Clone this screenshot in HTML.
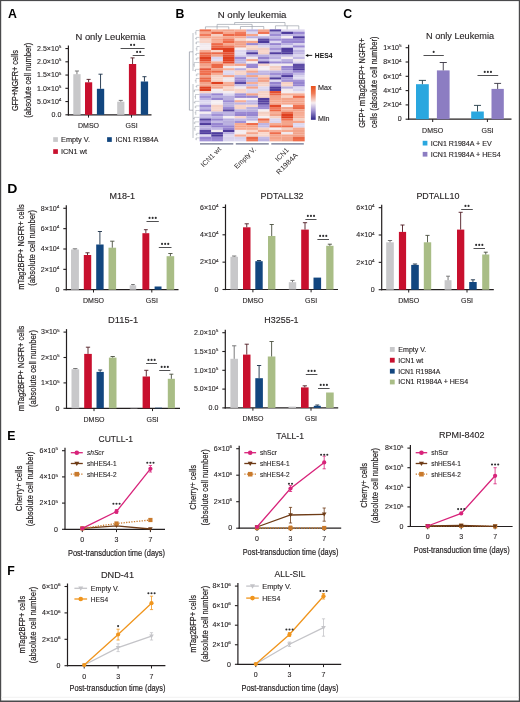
<!DOCTYPE html>
<html><head><meta charset="utf-8"><style>
html,body{margin:0;padding:0;background:#fff;}
svg{display:block;will-change:transform;}
text{font-family:"Liberation Sans", sans-serif;}
</style></head><body>
<svg width="520" height="702" viewBox="0 0 520 702">
<rect width="520" height="702" fill="#fff"/>
<rect x="0" y="0" width="520" height="1.1" fill="#4a4a4c"/>
<rect x="0" y="0" width="1.2" height="702" fill="#4a4a4c"/>
<rect x="518.8" y="0" width="1.2" height="702" fill="#4a4a4c"/>
<rect x="0" y="700.5" width="520" height="1.5" fill="#4a4a4c"/>
<rect x="1" y="696.8" width="518" height="0.8" fill="#ededed"/>
<text x="8" y="18" font-size="12.3" text-anchor="start" fill="#000" font-weight="bold">A</text>
<text x="175.5" y="18.3" font-size="12.3" text-anchor="start" fill="#000" font-weight="bold">B</text>
<text x="343.2" y="18" font-size="12.3" text-anchor="start" fill="#000" font-weight="bold">C</text>
<text x="7.3" y="440.3" font-size="12.3" text-anchor="start" fill="#000" font-weight="bold">E</text>
<text x="7.3" y="574.5" font-size="12.3" text-anchor="start" fill="#000" font-weight="bold">F</text>
<text transform="translate(7.2,193.4) scale(1.14,1)" x="0" y="0" font-size="12.3" font-weight="bold" fill="#000">D</text>
<line x1="68.4" y1="45.55" x2="68.4" y2="115.4" stroke="#231f20" stroke-width="1.2"/>
<line x1="65.4" y1="114.8" x2="68.4" y2="114.8" stroke="#231f20" stroke-width="1.1"/>
<text transform="translate(61.4,117.07) scale(1.12,1)" x="0" y="0" font-size="6.3" text-anchor="end" fill="#231f20" stroke="#231f20" stroke-width="0.1">0.0</text>
<line x1="65.4" y1="101.55" x2="68.4" y2="101.55" stroke="#231f20" stroke-width="1.1"/>
<text transform="translate(61.4,103.82) scale(1.12,1)" x="0" y="0" font-size="6.3" text-anchor="end" fill="#231f20" stroke="#231f20" stroke-width="0.1">5.0×10<tspan font-size="4.16" dy="-2.65">4</tspan></text>
<line x1="65.4" y1="88.3" x2="68.4" y2="88.3" stroke="#231f20" stroke-width="1.1"/>
<text transform="translate(61.4,90.57) scale(1.12,1)" x="0" y="0" font-size="6.3" text-anchor="end" fill="#231f20" stroke="#231f20" stroke-width="0.1">1.0×10<tspan font-size="4.16" dy="-2.65">5</tspan></text>
<line x1="65.4" y1="75.05" x2="68.4" y2="75.05" stroke="#231f20" stroke-width="1.1"/>
<text transform="translate(61.4,77.32) scale(1.12,1)" x="0" y="0" font-size="6.3" text-anchor="end" fill="#231f20" stroke="#231f20" stroke-width="0.1">1.5×10<tspan font-size="4.16" dy="-2.65">5</tspan></text>
<line x1="65.4" y1="61.8" x2="68.4" y2="61.8" stroke="#231f20" stroke-width="1.1"/>
<text transform="translate(61.4,64.07) scale(1.12,1)" x="0" y="0" font-size="6.3" text-anchor="end" fill="#231f20" stroke="#231f20" stroke-width="0.1">2.0×10<tspan font-size="4.16" dy="-2.65">5</tspan></text>
<line x1="65.4" y1="48.55" x2="68.4" y2="48.55" stroke="#231f20" stroke-width="1.1"/>
<text transform="translate(61.4,50.82) scale(1.12,1)" x="0" y="0" font-size="6.3" text-anchor="end" fill="#231f20" stroke="#231f20" stroke-width="0.1">2.5×10<tspan font-size="4.16" dy="-2.65">5</tspan></text>
<line x1="67.8" y1="114.8" x2="151.5" y2="114.8" stroke="#231f20" stroke-width="1.2"/>
<line x1="88.5" y1="114.8" x2="88.5" y2="117.6" stroke="#231f20" stroke-width="1"/>
<line x1="131.5" y1="114.8" x2="131.5" y2="117.6" stroke="#231f20" stroke-width="1"/>
<rect x="73.3" y="74.2" width="7.3" height="40.6" fill="#c8c8ca"/>
<line x1="76.95" y1="71" x2="76.95" y2="74.2" stroke="#6b6b6c" stroke-width="0.9"/>
<line x1="74.91" y1="71" x2="78.99" y2="71" stroke="#6b6b6c" stroke-width="0.9"/>
<rect x="85" y="82.3" width="7.2" height="32.5" fill="#c8102e"/>
<line x1="88.6" y1="79.4" x2="88.6" y2="82.3" stroke="#4f1b23" stroke-width="0.9"/>
<line x1="86.58" y1="79.4" x2="90.62" y2="79.4" stroke="#4f1b23" stroke-width="0.9"/>
<rect x="96.9" y="88.8" width="7.3" height="26" fill="#12467f"/>
<line x1="100.55" y1="74.2" x2="100.55" y2="88.8" stroke="#1a2f46" stroke-width="0.9"/>
<line x1="98.51" y1="74.2" x2="102.59" y2="74.2" stroke="#1a2f46" stroke-width="0.9"/>
<rect x="117.2" y="101.7" width="7.2" height="13.1" fill="#c8c8ca"/>
<line x1="120.8" y1="100.4" x2="120.8" y2="101.7" stroke="#6b6b6c" stroke-width="0.9"/>
<line x1="118.78" y1="100.4" x2="122.82" y2="100.4" stroke="#6b6b6c" stroke-width="0.9"/>
<rect x="128.9" y="64" width="7.3" height="50.8" fill="#c8102e"/>
<line x1="132.55" y1="57.9" x2="132.55" y2="64" stroke="#4f1b23" stroke-width="0.9"/>
<line x1="130.51" y1="57.9" x2="134.59" y2="57.9" stroke="#4f1b23" stroke-width="0.9"/>
<rect x="140.8" y="81.5" width="7.3" height="33.3" fill="#12467f"/>
<line x1="144.45" y1="76.7" x2="144.45" y2="81.5" stroke="#1a2f46" stroke-width="0.9"/>
<line x1="142.41" y1="76.7" x2="146.49" y2="76.7" stroke="#1a2f46" stroke-width="0.9"/>
<line x1="120.6" y1="48.5" x2="144.6" y2="48.5" stroke="#3c3c3e" stroke-width="0.9"/>
<circle cx="131.05" cy="44.9" r="1.05" fill="#2f2f31"/>
<circle cx="134.15" cy="44.9" r="1.05" fill="#2f2f31"/>
<line x1="132.7" y1="55.5" x2="144.6" y2="55.5" stroke="#3c3c3e" stroke-width="0.9"/>
<circle cx="137.1" cy="51.9" r="1.05" fill="#2f2f31"/>
<circle cx="140.2" cy="51.9" r="1.05" fill="#2f2f31"/>
<text x="88.5" y="128.2" font-size="7" text-anchor="middle" fill="#231f20" stroke="#231f20" stroke-width="0.12">DMSO</text>
<text x="131.6" y="128.2" font-size="7" text-anchor="middle" fill="#231f20" stroke="#231f20" stroke-width="0.12">GSI</text>
<text x="110.5" y="40" font-size="9" text-anchor="middle" fill="#231f20" textLength="70" lengthAdjust="spacingAndGlyphs" stroke="#231f20" stroke-width="0.12">N only Leukemia</text>
<text transform="translate(18.25,80.6) rotate(-90)" x="0" y="0" font-size="9.5" text-anchor="middle" fill="#231f20" stroke="#231f20" stroke-width="0.2" textLength="61" lengthAdjust="spacingAndGlyphs">GFP+NGFR+ cells</text>
<text transform="translate(30.65,80.3) rotate(-90)" x="0" y="0" font-size="9.5" text-anchor="middle" fill="#231f20" stroke="#231f20" stroke-width="0.2" textLength="75" lengthAdjust="spacingAndGlyphs">(absolute cell number)</text>
<rect x="53.2" y="137.2" width="4.7" height="4.7" fill="#c8c8ca"/>
<text x="61" y="141.8" font-size="6.8" text-anchor="start" fill="#231f20" textLength="29" lengthAdjust="spacingAndGlyphs" stroke="#231f20" stroke-width="0.12">Empty V.</text>
<rect x="107.1" y="137.2" width="4.7" height="4.7" fill="#12467f"/>
<text x="115.5" y="141.8" font-size="6.8" text-anchor="start" fill="#231f20" textLength="43" lengthAdjust="spacingAndGlyphs" stroke="#231f20" stroke-width="0.12">ICN1 R1984A</text>
<rect x="53.2" y="149.2" width="4.7" height="4.7" fill="#c8102e"/>
<text x="61" y="153.8" font-size="6.8" text-anchor="start" fill="#231f20" textLength="26" lengthAdjust="spacingAndGlyphs" stroke="#231f20" stroke-width="0.12">ICN1 wt</text>
<line x1="408.6" y1="44.7" x2="408.6" y2="119.8" stroke="#231f20" stroke-width="1.2"/>
<line x1="405.6" y1="119.2" x2="408.6" y2="119.2" stroke="#231f20" stroke-width="1.1"/>
<text transform="translate(401.6,121.47) scale(1.12,1)" x="0" y="0" font-size="6.3" text-anchor="end" fill="#231f20" stroke="#231f20" stroke-width="0.1">0</text>
<line x1="405.6" y1="104.9" x2="408.6" y2="104.9" stroke="#231f20" stroke-width="1.1"/>
<text transform="translate(401.6,107.17) scale(1.12,1)" x="0" y="0" font-size="6.3" text-anchor="end" fill="#231f20" stroke="#231f20" stroke-width="0.1">2×10<tspan font-size="4.16" dy="-2.65">4</tspan></text>
<line x1="405.6" y1="90.6" x2="408.6" y2="90.6" stroke="#231f20" stroke-width="1.1"/>
<text transform="translate(401.6,92.87) scale(1.12,1)" x="0" y="0" font-size="6.3" text-anchor="end" fill="#231f20" stroke="#231f20" stroke-width="0.1">4×10<tspan font-size="4.16" dy="-2.65">4</tspan></text>
<line x1="405.6" y1="76.3" x2="408.6" y2="76.3" stroke="#231f20" stroke-width="1.1"/>
<text transform="translate(401.6,78.57) scale(1.12,1)" x="0" y="0" font-size="6.3" text-anchor="end" fill="#231f20" stroke="#231f20" stroke-width="0.1">6×10<tspan font-size="4.16" dy="-2.65">4</tspan></text>
<line x1="405.6" y1="62" x2="408.6" y2="62" stroke="#231f20" stroke-width="1.1"/>
<text transform="translate(401.6,64.27) scale(1.12,1)" x="0" y="0" font-size="6.3" text-anchor="end" fill="#231f20" stroke="#231f20" stroke-width="0.1">8×10<tspan font-size="4.16" dy="-2.65">4</tspan></text>
<line x1="405.6" y1="47.7" x2="408.6" y2="47.7" stroke="#231f20" stroke-width="1.1"/>
<text transform="translate(401.6,49.97) scale(1.12,1)" x="0" y="0" font-size="6.3" text-anchor="end" fill="#231f20" stroke="#231f20" stroke-width="0.1">1×10<tspan font-size="4.16" dy="-2.65">5</tspan></text>
<line x1="408" y1="119.2" x2="511.5" y2="119.2" stroke="#231f20" stroke-width="1.2"/>
<line x1="432.7" y1="119.2" x2="432.7" y2="122" stroke="#231f20" stroke-width="1"/>
<line x1="487.4" y1="119.2" x2="487.4" y2="122" stroke="#231f20" stroke-width="1"/>
<rect x="416" y="84.2" width="12.8" height="35" fill="#2aa7df"/>
<line x1="422.4" y1="80.4" x2="422.4" y2="84.2" stroke="#223b46" stroke-width="0.9"/>
<line x1="418.82" y1="80.4" x2="425.98" y2="80.4" stroke="#223b46" stroke-width="0.9"/>
<rect x="436.9" y="70.4" width="12.7" height="48.8" fill="#8c7dc2"/>
<line x1="443.25" y1="62.5" x2="443.25" y2="70.4" stroke="#353240" stroke-width="0.9"/>
<line x1="439.69" y1="62.5" x2="446.81" y2="62.5" stroke="#353240" stroke-width="0.9"/>
<rect x="471.2" y="111.5" width="12.6" height="7.7" fill="#2aa7df"/>
<line x1="477.5" y1="105.4" x2="477.5" y2="111.5" stroke="#223b46" stroke-width="0.9"/>
<line x1="473.97" y1="105.4" x2="481.03" y2="105.4" stroke="#223b46" stroke-width="0.9"/>
<rect x="491.5" y="88.9" width="12.3" height="30.3" fill="#8c7dc2"/>
<line x1="497.65" y1="83.4" x2="497.65" y2="88.9" stroke="#353240" stroke-width="0.9"/>
<line x1="494.21" y1="83.4" x2="501.09" y2="83.4" stroke="#353240" stroke-width="0.9"/>
<line x1="423.5" y1="55.5" x2="443.8" y2="55.5" stroke="#3c3c3e" stroke-width="0.9"/>
<circle cx="433.65" cy="51.9" r="1.05" fill="#2f2f31"/>
<line x1="477.5" y1="75.5" x2="498.2" y2="75.5" stroke="#3c3c3e" stroke-width="0.9"/>
<circle cx="484.75" cy="71.9" r="1.05" fill="#2f2f31"/>
<circle cx="487.85" cy="71.9" r="1.05" fill="#2f2f31"/>
<circle cx="490.95" cy="71.9" r="1.05" fill="#2f2f31"/>
<text x="432.6" y="132.6" font-size="7" text-anchor="middle" fill="#231f20" stroke="#231f20" stroke-width="0.12">DMSO</text>
<text x="487.5" y="132.6" font-size="7" text-anchor="middle" fill="#231f20" stroke="#231f20" stroke-width="0.12">GSI</text>
<text x="460" y="38.8" font-size="9" text-anchor="middle" fill="#231f20" textLength="68" lengthAdjust="spacingAndGlyphs" stroke="#231f20" stroke-width="0.12">N only Leukemia</text>
<text transform="translate(364.65,83) rotate(-90)" x="0" y="0" font-size="9.5" text-anchor="middle" fill="#231f20" stroke="#231f20" stroke-width="0.2" textLength="89.5" lengthAdjust="spacingAndGlyphs">GFP+ mTag2BFP+ NGFR+</text>
<text transform="translate(376.86,82.2) rotate(-90)" x="0" y="0" font-size="9.5" text-anchor="middle" fill="#231f20" stroke="#231f20" stroke-width="0.2" textLength="91.5" lengthAdjust="spacingAndGlyphs">cells (absolute cell number)</text>
<rect x="422.7" y="140.8" width="4.7" height="4.7" fill="#2aa7df"/>
<text x="430.7" y="145.5" font-size="6.8" text-anchor="start" fill="#231f20" textLength="61" lengthAdjust="spacingAndGlyphs" stroke="#231f20" stroke-width="0.12">ICN1 R1984A + EV</text>
<rect x="422.7" y="151.9" width="4.7" height="4.7" fill="#8c7dc2"/>
<text x="430.7" y="156.6" font-size="6.8" text-anchor="start" fill="#231f20" textLength="70" lengthAdjust="spacingAndGlyphs" stroke="#231f20" stroke-width="0.12">ICN1 R1984A + HES4</text>
<line x1="66.3" y1="205.3" x2="66.3" y2="290.3" stroke="#231f20" stroke-width="1.2"/>
<line x1="63.3" y1="289.7" x2="66.3" y2="289.7" stroke="#231f20" stroke-width="1.1"/>
<text transform="translate(59.3,291.97) scale(1.12,1)" x="0" y="0" font-size="6.3" text-anchor="end" fill="#231f20" stroke="#231f20" stroke-width="0.1">0</text>
<line x1="63.3" y1="269.35" x2="66.3" y2="269.35" stroke="#231f20" stroke-width="1.1"/>
<text transform="translate(59.3,271.62) scale(1.12,1)" x="0" y="0" font-size="6.3" text-anchor="end" fill="#231f20" stroke="#231f20" stroke-width="0.1">2×10<tspan font-size="4.16" dy="-2.65">4</tspan></text>
<line x1="63.3" y1="249" x2="66.3" y2="249" stroke="#231f20" stroke-width="1.1"/>
<text transform="translate(59.3,251.27) scale(1.12,1)" x="0" y="0" font-size="6.3" text-anchor="end" fill="#231f20" stroke="#231f20" stroke-width="0.1">4×10<tspan font-size="4.16" dy="-2.65">4</tspan></text>
<line x1="63.3" y1="228.65" x2="66.3" y2="228.65" stroke="#231f20" stroke-width="1.1"/>
<text transform="translate(59.3,230.92) scale(1.12,1)" x="0" y="0" font-size="6.3" text-anchor="end" fill="#231f20" stroke="#231f20" stroke-width="0.1">6×10<tspan font-size="4.16" dy="-2.65">4</tspan></text>
<line x1="63.3" y1="208.3" x2="66.3" y2="208.3" stroke="#231f20" stroke-width="1.1"/>
<text transform="translate(59.3,210.57) scale(1.12,1)" x="0" y="0" font-size="6.3" text-anchor="end" fill="#231f20" stroke="#231f20" stroke-width="0.1">8×10<tspan font-size="4.16" dy="-2.65">4</tspan></text>
<line x1="65.7" y1="289.7" x2="178.5" y2="289.7" stroke="#231f20" stroke-width="1.2"/>
<line x1="93.5" y1="289.7" x2="93.5" y2="292.5" stroke="#231f20" stroke-width="1"/>
<line x1="151.8" y1="289.7" x2="151.8" y2="292.5" stroke="#231f20" stroke-width="1"/>
<rect x="71" y="249.5" width="7.9" height="40.2" fill="#c8c8ca"/>
<line x1="74.95" y1="248.8" x2="74.95" y2="249.5" stroke="#6b6b6c" stroke-width="0.9"/>
<line x1="72.74" y1="248.8" x2="77.16" y2="248.8" stroke="#6b6b6c" stroke-width="0.9"/>
<rect x="83.8" y="255" width="7.4" height="34.7" fill="#c8102e"/>
<line x1="87.5" y1="252.8" x2="87.5" y2="255" stroke="#4f1b23" stroke-width="0.9"/>
<line x1="85.43" y1="252.8" x2="89.57" y2="252.8" stroke="#4f1b23" stroke-width="0.9"/>
<rect x="96.2" y="244.5" width="7.4" height="45.2" fill="#12467f"/>
<line x1="99.9" y1="231.5" x2="99.9" y2="244.5" stroke="#1a2f46" stroke-width="0.9"/>
<line x1="97.83" y1="231.5" x2="101.97" y2="231.5" stroke="#1a2f46" stroke-width="0.9"/>
<rect x="108.5" y="247.7" width="7.6" height="42" fill="#a9bd86"/>
<line x1="112.3" y1="241.2" x2="112.3" y2="247.7" stroke="#494f3e" stroke-width="0.9"/>
<line x1="110.17" y1="241.2" x2="114.43" y2="241.2" stroke="#494f3e" stroke-width="0.9"/>
<rect x="129.7" y="285.3" width="6.5" height="4.4" fill="#c8c8ca"/>
<line x1="132.95" y1="284.5" x2="132.95" y2="285.3" stroke="#6b6b6c" stroke-width="0.9"/>
<line x1="131.13" y1="284.5" x2="134.77" y2="284.5" stroke="#6b6b6c" stroke-width="0.9"/>
<rect x="142.4" y="233.2" width="6.9" height="56.5" fill="#c8102e"/>
<line x1="145.85" y1="229.7" x2="145.85" y2="233.2" stroke="#4f1b23" stroke-width="0.9"/>
<line x1="143.92" y1="229.7" x2="147.78" y2="229.7" stroke="#4f1b23" stroke-width="0.9"/>
<rect x="154.6" y="286.5" width="6.9" height="3.2" fill="#12467f"/>
<rect x="166.6" y="256.2" width="7.6" height="33.5" fill="#a9bd86"/>
<line x1="170.4" y1="253.5" x2="170.4" y2="256.2" stroke="#494f3e" stroke-width="0.9"/>
<line x1="168.27" y1="253.5" x2="172.53" y2="253.5" stroke="#494f3e" stroke-width="0.9"/>
<line x1="146.5" y1="221.5" x2="158.8" y2="221.5" stroke="#3c3c3e" stroke-width="0.9"/>
<circle cx="149.55" cy="217.9" r="1.05" fill="#2f2f31"/>
<circle cx="152.65" cy="217.9" r="1.05" fill="#2f2f31"/>
<circle cx="155.75" cy="217.9" r="1.05" fill="#2f2f31"/>
<line x1="158.8" y1="247.5" x2="171.5" y2="247.5" stroke="#3c3c3e" stroke-width="0.9"/>
<circle cx="162.05" cy="243.9" r="1.05" fill="#2f2f31"/>
<circle cx="165.15" cy="243.9" r="1.05" fill="#2f2f31"/>
<circle cx="168.25" cy="243.9" r="1.05" fill="#2f2f31"/>
<text x="93.5" y="302.9" font-size="7" text-anchor="middle" fill="#231f20" stroke="#231f20" stroke-width="0.12">DMSO</text>
<text x="151.8" y="302.9" font-size="7" text-anchor="middle" fill="#231f20" stroke="#231f20" stroke-width="0.12">GSI</text>
<text x="122.35" y="198.9" font-size="9.2" text-anchor="middle" fill="#231f20" textLength="25.6" lengthAdjust="spacingAndGlyphs" stroke="#231f20" stroke-width="0.12">M18-1</text>
<line x1="225.5" y1="204.45" x2="225.5" y2="290.1" stroke="#231f20" stroke-width="1.2"/>
<line x1="222.5" y1="289.5" x2="225.5" y2="289.5" stroke="#231f20" stroke-width="1.1"/>
<text transform="translate(218.5,291.77) scale(1.12,1)" x="0" y="0" font-size="6.3" text-anchor="end" fill="#231f20" stroke="#231f20" stroke-width="0.1">0</text>
<line x1="222.5" y1="262.15" x2="225.5" y2="262.15" stroke="#231f20" stroke-width="1.1"/>
<text transform="translate(218.5,264.42) scale(1.12,1)" x="0" y="0" font-size="6.3" text-anchor="end" fill="#231f20" stroke="#231f20" stroke-width="0.1">2×10<tspan font-size="4.16" dy="-2.65">4</tspan></text>
<line x1="222.5" y1="234.8" x2="225.5" y2="234.8" stroke="#231f20" stroke-width="1.1"/>
<text transform="translate(218.5,237.07) scale(1.12,1)" x="0" y="0" font-size="6.3" text-anchor="end" fill="#231f20" stroke="#231f20" stroke-width="0.1">4×10<tspan font-size="4.16" dy="-2.65">4</tspan></text>
<line x1="222.5" y1="207.45" x2="225.5" y2="207.45" stroke="#231f20" stroke-width="1.1"/>
<text transform="translate(218.5,209.72) scale(1.12,1)" x="0" y="0" font-size="6.3" text-anchor="end" fill="#231f20" stroke="#231f20" stroke-width="0.1">6×10<tspan font-size="4.16" dy="-2.65">4</tspan></text>
<line x1="224.9" y1="289.5" x2="338" y2="289.5" stroke="#231f20" stroke-width="1.2"/>
<line x1="252.9" y1="289.5" x2="252.9" y2="292.3" stroke="#231f20" stroke-width="1"/>
<line x1="311.1" y1="289.5" x2="311.1" y2="292.3" stroke="#231f20" stroke-width="1"/>
<rect x="230.4" y="256.8" width="7.6" height="32.7" fill="#c8c8ca"/>
<line x1="234.2" y1="256" x2="234.2" y2="256.8" stroke="#6b6b6c" stroke-width="0.9"/>
<line x1="232.07" y1="256" x2="236.33" y2="256" stroke="#6b6b6c" stroke-width="0.9"/>
<rect x="243" y="227.3" width="7.5" height="62.2" fill="#c8102e"/>
<line x1="246.75" y1="223.8" x2="246.75" y2="227.3" stroke="#4f1b23" stroke-width="0.9"/>
<line x1="244.65" y1="223.8" x2="248.85" y2="223.8" stroke="#4f1b23" stroke-width="0.9"/>
<rect x="255.3" y="261.2" width="7.4" height="28.3" fill="#12467f"/>
<line x1="259" y1="260.5" x2="259" y2="261.2" stroke="#1a2f46" stroke-width="0.9"/>
<line x1="256.93" y1="260.5" x2="261.07" y2="260.5" stroke="#1a2f46" stroke-width="0.9"/>
<rect x="268" y="236" width="7.4" height="53.5" fill="#a9bd86"/>
<line x1="271.7" y1="224.5" x2="271.7" y2="236" stroke="#494f3e" stroke-width="0.9"/>
<line x1="269.63" y1="224.5" x2="273.77" y2="224.5" stroke="#494f3e" stroke-width="0.9"/>
<rect x="288.8" y="282.2" width="7.4" height="7.3" fill="#c8c8ca"/>
<line x1="292.5" y1="280.4" x2="292.5" y2="282.2" stroke="#6b6b6c" stroke-width="0.9"/>
<line x1="290.43" y1="280.4" x2="294.57" y2="280.4" stroke="#6b6b6c" stroke-width="0.9"/>
<rect x="301.2" y="229.6" width="7.6" height="59.9" fill="#c8102e"/>
<line x1="305" y1="222.7" x2="305" y2="229.6" stroke="#4f1b23" stroke-width="0.9"/>
<line x1="302.87" y1="222.7" x2="307.13" y2="222.7" stroke="#4f1b23" stroke-width="0.9"/>
<rect x="313.5" y="277.6" width="7.6" height="11.9" fill="#12467f"/>
<rect x="326.2" y="245.8" width="7.3" height="43.7" fill="#a9bd86"/>
<line x1="329.85" y1="244.2" x2="329.85" y2="245.8" stroke="#494f3e" stroke-width="0.9"/>
<line x1="327.81" y1="244.2" x2="331.89" y2="244.2" stroke="#494f3e" stroke-width="0.9"/>
<line x1="305.4" y1="219.5" x2="316.5" y2="219.5" stroke="#3c3c3e" stroke-width="0.9"/>
<circle cx="307.85" cy="215.9" r="1.05" fill="#2f2f31"/>
<circle cx="310.95" cy="215.9" r="1.05" fill="#2f2f31"/>
<circle cx="314.05" cy="215.9" r="1.05" fill="#2f2f31"/>
<line x1="317.4" y1="239.5" x2="329" y2="239.5" stroke="#3c3c3e" stroke-width="0.9"/>
<circle cx="320.1" cy="235.9" r="1.05" fill="#2f2f31"/>
<circle cx="323.2" cy="235.9" r="1.05" fill="#2f2f31"/>
<circle cx="326.3" cy="235.9" r="1.05" fill="#2f2f31"/>
<text x="252.9" y="302.7" font-size="7" text-anchor="middle" fill="#231f20" stroke="#231f20" stroke-width="0.12">DMSO</text>
<text x="311.1" y="302.7" font-size="7" text-anchor="middle" fill="#231f20" stroke="#231f20" stroke-width="0.12">GSI</text>
<text x="282.1" y="198.7" font-size="9.2" text-anchor="middle" fill="#231f20" textLength="43" lengthAdjust="spacingAndGlyphs" stroke="#231f20" stroke-width="0.12">PDTALL32</text>
<line x1="381.7" y1="204.65" x2="381.7" y2="290.3" stroke="#231f20" stroke-width="1.2"/>
<line x1="378.7" y1="289.7" x2="381.7" y2="289.7" stroke="#231f20" stroke-width="1.1"/>
<text transform="translate(374.7,291.97) scale(1.12,1)" x="0" y="0" font-size="6.3" text-anchor="end" fill="#231f20" stroke="#231f20" stroke-width="0.1">0</text>
<line x1="378.7" y1="262.35" x2="381.7" y2="262.35" stroke="#231f20" stroke-width="1.1"/>
<text transform="translate(374.7,264.62) scale(1.12,1)" x="0" y="0" font-size="6.3" text-anchor="end" fill="#231f20" stroke="#231f20" stroke-width="0.1">2×10<tspan font-size="4.16" dy="-2.65">4</tspan></text>
<line x1="378.7" y1="235" x2="381.7" y2="235" stroke="#231f20" stroke-width="1.1"/>
<text transform="translate(374.7,237.27) scale(1.12,1)" x="0" y="0" font-size="6.3" text-anchor="end" fill="#231f20" stroke="#231f20" stroke-width="0.1">4×10<tspan font-size="4.16" dy="-2.65">4</tspan></text>
<line x1="378.7" y1="207.65" x2="381.7" y2="207.65" stroke="#231f20" stroke-width="1.1"/>
<text transform="translate(374.7,209.92) scale(1.12,1)" x="0" y="0" font-size="6.3" text-anchor="end" fill="#231f20" stroke="#231f20" stroke-width="0.1">6×10<tspan font-size="4.16" dy="-2.65">4</tspan></text>
<line x1="381.1" y1="289.7" x2="493.8" y2="289.7" stroke="#231f20" stroke-width="1.2"/>
<line x1="408.7" y1="289.7" x2="408.7" y2="292.5" stroke="#231f20" stroke-width="1"/>
<line x1="467" y1="289.7" x2="467" y2="292.5" stroke="#231f20" stroke-width="1"/>
<rect x="386.2" y="242.3" width="7.6" height="47.4" fill="#c8c8ca"/>
<line x1="390" y1="240.5" x2="390" y2="242.3" stroke="#6b6b6c" stroke-width="0.9"/>
<line x1="387.87" y1="240.5" x2="392.13" y2="240.5" stroke="#6b6b6c" stroke-width="0.9"/>
<rect x="398.9" y="231.9" width="7.2" height="57.8" fill="#c8102e"/>
<line x1="402.5" y1="225" x2="402.5" y2="231.9" stroke="#4f1b23" stroke-width="0.9"/>
<line x1="400.48" y1="225" x2="404.52" y2="225" stroke="#4f1b23" stroke-width="0.9"/>
<rect x="411.2" y="264.9" width="7.6" height="24.8" fill="#12467f"/>
<line x1="415" y1="264" x2="415" y2="264.9" stroke="#1a2f46" stroke-width="0.9"/>
<line x1="412.87" y1="264" x2="417.13" y2="264" stroke="#1a2f46" stroke-width="0.9"/>
<rect x="423.8" y="242.3" width="7.4" height="47.4" fill="#a9bd86"/>
<line x1="427.5" y1="235.4" x2="427.5" y2="242.3" stroke="#494f3e" stroke-width="0.9"/>
<line x1="425.43" y1="235.4" x2="429.57" y2="235.4" stroke="#494f3e" stroke-width="0.9"/>
<rect x="444.6" y="280.2" width="6.9" height="9.5" fill="#c8c8ca"/>
<line x1="448.05" y1="276.2" x2="448.05" y2="280.2" stroke="#6b6b6c" stroke-width="0.9"/>
<line x1="446.12" y1="276.2" x2="449.98" y2="276.2" stroke="#6b6b6c" stroke-width="0.9"/>
<rect x="457" y="229.6" width="7.3" height="60.1" fill="#c8102e"/>
<line x1="460.65" y1="212.3" x2="460.65" y2="229.6" stroke="#4f1b23" stroke-width="0.9"/>
<line x1="458.61" y1="212.3" x2="462.69" y2="212.3" stroke="#4f1b23" stroke-width="0.9"/>
<rect x="469.2" y="282" width="7.5" height="7.7" fill="#12467f"/>
<line x1="472.95" y1="279.8" x2="472.95" y2="282" stroke="#1a2f46" stroke-width="0.9"/>
<line x1="470.85" y1="279.8" x2="475.05" y2="279.8" stroke="#1a2f46" stroke-width="0.9"/>
<rect x="482.2" y="254.5" width="7.1" height="35.2" fill="#a9bd86"/>
<line x1="485.75" y1="252.2" x2="485.75" y2="254.5" stroke="#494f3e" stroke-width="0.9"/>
<line x1="483.76" y1="252.2" x2="487.74" y2="252.2" stroke="#494f3e" stroke-width="0.9"/>
<line x1="461.2" y1="209.5" x2="472.8" y2="209.5" stroke="#3c3c3e" stroke-width="0.9"/>
<circle cx="465.45" cy="205.9" r="1.05" fill="#2f2f31"/>
<circle cx="468.55" cy="205.9" r="1.05" fill="#2f2f31"/>
<line x1="473.5" y1="248.5" x2="485" y2="248.5" stroke="#3c3c3e" stroke-width="0.9"/>
<circle cx="476.15" cy="244.9" r="1.05" fill="#2f2f31"/>
<circle cx="479.25" cy="244.9" r="1.05" fill="#2f2f31"/>
<circle cx="482.35" cy="244.9" r="1.05" fill="#2f2f31"/>
<text x="408.7" y="302.9" font-size="7" text-anchor="middle" fill="#231f20" stroke="#231f20" stroke-width="0.12">DMSO</text>
<text x="467" y="302.9" font-size="7" text-anchor="middle" fill="#231f20" stroke="#231f20" stroke-width="0.12">GSI</text>
<text x="437.9" y="198.5" font-size="9.2" text-anchor="middle" fill="#231f20" textLength="43" lengthAdjust="spacingAndGlyphs" stroke="#231f20" stroke-width="0.12">PDTALL10</text>
<line x1="66.5" y1="329.1" x2="66.5" y2="408.9" stroke="#231f20" stroke-width="1.2"/>
<line x1="63.5" y1="408.3" x2="66.5" y2="408.3" stroke="#231f20" stroke-width="1.1"/>
<text transform="translate(59.5,410.57) scale(1.12,1)" x="0" y="0" font-size="6.3" text-anchor="end" fill="#231f20" stroke="#231f20" stroke-width="0.1">0</text>
<line x1="63.5" y1="382.9" x2="66.5" y2="382.9" stroke="#231f20" stroke-width="1.1"/>
<text transform="translate(59.5,385.17) scale(1.12,1)" x="0" y="0" font-size="6.3" text-anchor="end" fill="#231f20" stroke="#231f20" stroke-width="0.1">1×10<tspan font-size="4.16" dy="-2.65">5</tspan></text>
<line x1="63.5" y1="357.5" x2="66.5" y2="357.5" stroke="#231f20" stroke-width="1.1"/>
<text transform="translate(59.5,359.77) scale(1.12,1)" x="0" y="0" font-size="6.3" text-anchor="end" fill="#231f20" stroke="#231f20" stroke-width="0.1">2×10<tspan font-size="4.16" dy="-2.65">5</tspan></text>
<line x1="63.5" y1="332.1" x2="66.5" y2="332.1" stroke="#231f20" stroke-width="1.1"/>
<text transform="translate(59.5,334.37) scale(1.12,1)" x="0" y="0" font-size="6.3" text-anchor="end" fill="#231f20" stroke="#231f20" stroke-width="0.1">3×10<tspan font-size="4.16" dy="-2.65">5</tspan></text>
<line x1="65.9" y1="408.3" x2="180" y2="408.3" stroke="#231f20" stroke-width="1.2"/>
<line x1="94" y1="408.3" x2="94" y2="411.1" stroke="#231f20" stroke-width="1"/>
<line x1="152.5" y1="408.3" x2="152.5" y2="411.1" stroke="#231f20" stroke-width="1"/>
<rect x="71.5" y="369.2" width="7.7" height="39.1" fill="#c8c8ca"/>
<line x1="75.35" y1="368.5" x2="75.35" y2="369.2" stroke="#6b6b6c" stroke-width="0.9"/>
<line x1="73.19" y1="368.5" x2="77.51" y2="368.5" stroke="#6b6b6c" stroke-width="0.9"/>
<rect x="84.2" y="353.9" width="7.6" height="54.4" fill="#c8102e"/>
<line x1="88" y1="347.2" x2="88" y2="353.9" stroke="#4f1b23" stroke-width="0.9"/>
<line x1="85.87" y1="347.2" x2="90.13" y2="347.2" stroke="#4f1b23" stroke-width="0.9"/>
<rect x="96.5" y="371.9" width="7.3" height="36.4" fill="#12467f"/>
<line x1="100.15" y1="370" x2="100.15" y2="371.9" stroke="#1a2f46" stroke-width="0.9"/>
<line x1="98.11" y1="370" x2="102.19" y2="370" stroke="#1a2f46" stroke-width="0.9"/>
<rect x="108.9" y="357.6" width="7.6" height="50.7" fill="#a9bd86"/>
<line x1="112.7" y1="356.5" x2="112.7" y2="357.6" stroke="#494f3e" stroke-width="0.9"/>
<line x1="110.57" y1="356.5" x2="114.83" y2="356.5" stroke="#494f3e" stroke-width="0.9"/>
<rect x="130.4" y="407.7" width="7.1" height="0.6" fill="#c8c8ca"/>
<rect x="142.6" y="376.5" width="7.4" height="31.8" fill="#c8102e"/>
<line x1="146.3" y1="370.3" x2="146.3" y2="376.5" stroke="#4f1b23" stroke-width="0.9"/>
<line x1="144.23" y1="370.3" x2="148.37" y2="370.3" stroke="#4f1b23" stroke-width="0.9"/>
<rect x="155" y="407.7" width="7" height="0.6" fill="#12467f"/>
<rect x="167.8" y="378.8" width="7.1" height="29.5" fill="#a9bd86"/>
<line x1="171.35" y1="374.2" x2="171.35" y2="378.8" stroke="#494f3e" stroke-width="0.9"/>
<line x1="169.36" y1="374.2" x2="173.34" y2="374.2" stroke="#494f3e" stroke-width="0.9"/>
<line x1="146.1" y1="363.5" x2="157" y2="363.5" stroke="#3c3c3e" stroke-width="0.9"/>
<circle cx="148.45" cy="359.9" r="1.05" fill="#2f2f31"/>
<circle cx="151.55" cy="359.9" r="1.05" fill="#2f2f31"/>
<circle cx="154.65" cy="359.9" r="1.05" fill="#2f2f31"/>
<line x1="159.2" y1="370.5" x2="170.3" y2="370.5" stroke="#3c3c3e" stroke-width="0.9"/>
<circle cx="161.65" cy="366.9" r="1.05" fill="#2f2f31"/>
<circle cx="164.75" cy="366.9" r="1.05" fill="#2f2f31"/>
<circle cx="167.85" cy="366.9" r="1.05" fill="#2f2f31"/>
<text x="94" y="421.5" font-size="7" text-anchor="middle" fill="#231f20" stroke="#231f20" stroke-width="0.12">DMSO</text>
<text x="152.5" y="421.5" font-size="7" text-anchor="middle" fill="#231f20" stroke="#231f20" stroke-width="0.12">GSI</text>
<text x="123.05" y="323.2" font-size="9.2" text-anchor="middle" fill="#231f20" textLength="30.1" lengthAdjust="spacingAndGlyphs" stroke="#231f20" stroke-width="0.12">D115-1</text>
<line x1="225.3" y1="329.7" x2="225.3" y2="408.5" stroke="#231f20" stroke-width="1.2"/>
<line x1="222.3" y1="407.9" x2="225.3" y2="407.9" stroke="#231f20" stroke-width="1.1"/>
<text transform="translate(218.3,410.17) scale(1.12,1)" x="0" y="0" font-size="6.3" text-anchor="end" fill="#231f20" stroke="#231f20" stroke-width="0.1">0.0</text>
<line x1="222.3" y1="389.1" x2="225.3" y2="389.1" stroke="#231f20" stroke-width="1.1"/>
<text transform="translate(218.3,391.37) scale(1.12,1)" x="0" y="0" font-size="6.3" text-anchor="end" fill="#231f20" stroke="#231f20" stroke-width="0.1">5.0×10<tspan font-size="4.16" dy="-2.65">4</tspan></text>
<line x1="222.3" y1="370.3" x2="225.3" y2="370.3" stroke="#231f20" stroke-width="1.1"/>
<text transform="translate(218.3,372.57) scale(1.12,1)" x="0" y="0" font-size="6.3" text-anchor="end" fill="#231f20" stroke="#231f20" stroke-width="0.1">1.0×10<tspan font-size="4.16" dy="-2.65">5</tspan></text>
<line x1="222.3" y1="351.5" x2="225.3" y2="351.5" stroke="#231f20" stroke-width="1.1"/>
<text transform="translate(218.3,353.77) scale(1.12,1)" x="0" y="0" font-size="6.3" text-anchor="end" fill="#231f20" stroke="#231f20" stroke-width="0.1">1.5×10<tspan font-size="4.16" dy="-2.65">5</tspan></text>
<line x1="222.3" y1="332.7" x2="225.3" y2="332.7" stroke="#231f20" stroke-width="1.1"/>
<text transform="translate(218.3,334.97) scale(1.12,1)" x="0" y="0" font-size="6.3" text-anchor="end" fill="#231f20" stroke="#231f20" stroke-width="0.1">2.0×10<tspan font-size="4.16" dy="-2.65">5</tspan></text>
<line x1="224.7" y1="407.9" x2="338.2" y2="407.9" stroke="#231f20" stroke-width="1.2"/>
<line x1="252.9" y1="407.9" x2="252.9" y2="410.7" stroke="#231f20" stroke-width="1"/>
<line x1="311" y1="407.9" x2="311" y2="410.7" stroke="#231f20" stroke-width="1"/>
<rect x="230.4" y="358.8" width="7.6" height="49.1" fill="#c8c8ca"/>
<line x1="234.2" y1="345.8" x2="234.2" y2="358.8" stroke="#6b6b6c" stroke-width="0.9"/>
<line x1="232.07" y1="345.8" x2="236.33" y2="345.8" stroke="#6b6b6c" stroke-width="0.9"/>
<rect x="243" y="354.6" width="7.5" height="53.3" fill="#c8102e"/>
<line x1="246.75" y1="344.2" x2="246.75" y2="354.6" stroke="#4f1b23" stroke-width="0.9"/>
<line x1="244.65" y1="344.2" x2="248.85" y2="344.2" stroke="#4f1b23" stroke-width="0.9"/>
<rect x="255.3" y="378.2" width="7.6" height="29.7" fill="#12467f"/>
<line x1="259.1" y1="365.5" x2="259.1" y2="378.2" stroke="#1a2f46" stroke-width="0.9"/>
<line x1="256.97" y1="365.5" x2="261.23" y2="365.5" stroke="#1a2f46" stroke-width="0.9"/>
<rect x="267.8" y="356.5" width="7.6" height="51.4" fill="#a9bd86"/>
<line x1="271.6" y1="341.5" x2="271.6" y2="356.5" stroke="#494f3e" stroke-width="0.9"/>
<line x1="269.47" y1="341.5" x2="273.73" y2="341.5" stroke="#494f3e" stroke-width="0.9"/>
<rect x="288.5" y="406.6" width="7.5" height="1.3" fill="#c8c8ca"/>
<rect x="301" y="387.4" width="7.6" height="20.5" fill="#c8102e"/>
<line x1="304.8" y1="385.8" x2="304.8" y2="387.4" stroke="#4f1b23" stroke-width="0.9"/>
<line x1="302.67" y1="385.8" x2="306.93" y2="385.8" stroke="#4f1b23" stroke-width="0.9"/>
<rect x="313.8" y="405.8" width="7" height="2.1" fill="#12467f"/>
<line x1="317.3" y1="405" x2="317.3" y2="405.8" stroke="#1a2f46" stroke-width="0.9"/>
<line x1="315.34" y1="405" x2="319.26" y2="405" stroke="#1a2f46" stroke-width="0.9"/>
<rect x="326.1" y="392.5" width="7.6" height="15.4" fill="#a9bd86"/>
<line x1="305.8" y1="374.5" x2="317.4" y2="374.5" stroke="#3c3c3e" stroke-width="0.9"/>
<circle cx="308.5" cy="370.9" r="1.05" fill="#2f2f31"/>
<circle cx="311.6" cy="370.9" r="1.05" fill="#2f2f31"/>
<circle cx="314.7" cy="370.9" r="1.05" fill="#2f2f31"/>
<line x1="318" y1="388.5" x2="329.6" y2="388.5" stroke="#3c3c3e" stroke-width="0.9"/>
<circle cx="320.7" cy="384.9" r="1.05" fill="#2f2f31"/>
<circle cx="323.8" cy="384.9" r="1.05" fill="#2f2f31"/>
<circle cx="326.9" cy="384.9" r="1.05" fill="#2f2f31"/>
<text x="252.9" y="421.1" font-size="7" text-anchor="middle" fill="#231f20" stroke="#231f20" stroke-width="0.12">DMSO</text>
<text x="311" y="421.1" font-size="7" text-anchor="middle" fill="#231f20" stroke="#231f20" stroke-width="0.12">GSI</text>
<text x="281.45" y="323.4" font-size="9.2" text-anchor="middle" fill="#231f20" textLength="34.3" lengthAdjust="spacingAndGlyphs" stroke="#231f20" stroke-width="0.12">H3255-1</text>
<text transform="translate(23.86,247) rotate(-90)" x="0" y="0" font-size="9.5" text-anchor="middle" fill="#231f20" stroke="#231f20" stroke-width="0.2" textLength="85.3" lengthAdjust="spacingAndGlyphs">mTag2BFP+ NGFR+ cells</text>
<text transform="translate(34.86,247.8) rotate(-90)" x="0" y="0" font-size="9.5" text-anchor="middle" fill="#231f20" stroke="#231f20" stroke-width="0.2" textLength="75.9" lengthAdjust="spacingAndGlyphs">(absolute cell number)</text>
<text transform="translate(24.15,368.4) rotate(-90)" x="0" y="0" font-size="9.5" text-anchor="middle" fill="#231f20" stroke="#231f20" stroke-width="0.2" textLength="85.5" lengthAdjust="spacingAndGlyphs">mTag2BFP+ NGFR+ cells</text>
<text transform="translate(35.55,368.5) rotate(-90)" x="0" y="0" font-size="9.5" text-anchor="middle" fill="#231f20" stroke="#231f20" stroke-width="0.2" textLength="77" lengthAdjust="spacingAndGlyphs">(absolute cell number)</text>
<rect x="389.9" y="347" width="4.8" height="4.8" fill="#c8c8ca"/>
<text x="398.3" y="351.8" font-size="6.8" text-anchor="start" fill="#231f20" textLength="28" lengthAdjust="spacingAndGlyphs" stroke="#231f20" stroke-width="0.12">Empty V.</text>
<rect x="389.9" y="357.8" width="4.8" height="4.8" fill="#c8102e"/>
<text x="398.3" y="362.6" font-size="6.8" text-anchor="start" fill="#231f20" textLength="25" lengthAdjust="spacingAndGlyphs" stroke="#231f20" stroke-width="0.12">ICN1 wt</text>
<rect x="389.9" y="368.8" width="4.8" height="4.8" fill="#12467f"/>
<text x="398.3" y="373.6" font-size="6.8" text-anchor="start" fill="#231f20" textLength="42" lengthAdjust="spacingAndGlyphs" stroke="#231f20" stroke-width="0.12">ICN1 R1984A</text>
<rect x="389.9" y="379.6" width="4.8" height="4.8" fill="#a9bd86"/>
<text x="398.3" y="384.4" font-size="6.8" text-anchor="start" fill="#231f20" textLength="70" lengthAdjust="spacingAndGlyphs" stroke="#231f20" stroke-width="0.12">ICN1 R1984A + HES4</text>
<line x1="65" y1="447.7" x2="65" y2="529.9" stroke="#231f20" stroke-width="1.2"/>
<line x1="62" y1="529.3" x2="65" y2="529.3" stroke="#231f20" stroke-width="1.1"/>
<text transform="translate(58,531.57) scale(1.12,1)" x="0" y="0" font-size="6.3" text-anchor="end" fill="#231f20" stroke="#231f20" stroke-width="0.1">0</text>
<line x1="62" y1="503.1" x2="65" y2="503.1" stroke="#231f20" stroke-width="1.1"/>
<text transform="translate(58,505.37) scale(1.12,1)" x="0" y="0" font-size="6.3" text-anchor="end" fill="#231f20" stroke="#231f20" stroke-width="0.1">2×10<tspan font-size="4.16" dy="-2.65">5</tspan></text>
<line x1="62" y1="476.9" x2="65" y2="476.9" stroke="#231f20" stroke-width="1.1"/>
<text transform="translate(58,479.17) scale(1.12,1)" x="0" y="0" font-size="6.3" text-anchor="end" fill="#231f20" stroke="#231f20" stroke-width="0.1">4×10<tspan font-size="4.16" dy="-2.65">5</tspan></text>
<line x1="62" y1="450.7" x2="65" y2="450.7" stroke="#231f20" stroke-width="1.1"/>
<text transform="translate(58,452.97) scale(1.12,1)" x="0" y="0" font-size="6.3" text-anchor="end" fill="#231f20" stroke="#231f20" stroke-width="0.1">6×10<tspan font-size="4.16" dy="-2.65">5</tspan></text>
<line x1="64.4" y1="529.3" x2="165" y2="529.3" stroke="#231f20" stroke-width="1.2"/>
<line x1="82.3" y1="529.3" x2="82.3" y2="532.1" stroke="#231f20" stroke-width="1"/>
<line x1="116.5" y1="529.3" x2="116.5" y2="532.1" stroke="#231f20" stroke-width="1"/>
<line x1="150.4" y1="529.3" x2="150.4" y2="532.1" stroke="#231f20" stroke-width="1"/>
<text x="82.3" y="542.1" font-size="7" text-anchor="middle" fill="#231f20" stroke="#231f20" stroke-width="0.12">0</text>
<text x="116.5" y="542.1" font-size="7" text-anchor="middle" fill="#231f20" stroke="#231f20" stroke-width="0.12">3</text>
<text x="150.4" y="542.1" font-size="7" text-anchor="middle" fill="#231f20" stroke="#231f20" stroke-width="0.12">7</text>
<text x="115.85" y="441.8" font-size="9.2" text-anchor="middle" fill="#231f20" textLength="34.5" lengthAdjust="spacingAndGlyphs" stroke="#231f20" stroke-width="0.12">CUTLL-1</text>
<text x="116.5" y="556.1" font-size="9.5" text-anchor="middle" fill="#231f20" textLength="97" lengthAdjust="spacingAndGlyphs" stroke="#231f20" stroke-width="0.2">Post-transduction time (days)</text>
<path d="M82.3,528.4 L116.5,525.8 L150.4,529" fill="none" stroke="#6e3b16" stroke-width="1.3"/>
<path d="M79.99,526.72 L84.61,526.72 L82.3,530.71 Z" fill="#6e3b16"/>
<path d="M114.19,524.12 L118.81,524.12 L116.5,528.11 Z" fill="#6e3b16"/>
<path d="M148.09,527.32 L152.71,527.32 L150.4,531.31 Z" fill="#6e3b16"/>
<path d="M82.3,528.4 L116.5,523.5 L150.4,520" fill="none" stroke="#c97a2c" stroke-width="1.3" stroke-dasharray="1.3,1.3"/>
<rect x="80.2" y="526.3" width="4.2" height="4.2" fill="#c97a2c"/>
<rect x="114.4" y="521.4" width="4.2" height="4.2" fill="#c97a2c"/>
<rect x="148.3" y="517.9" width="4.2" height="4.2" fill="#c97a2c"/>
<path d="M82.3,528.4 L116.5,511.5 L150.4,468.8" fill="none" stroke="#d8237a" stroke-width="1.3"/>
<line x1="116.5" y1="509.5" x2="116.5" y2="513.5" stroke="#d8237a" stroke-width="0.8"/>
<line x1="114.9" y1="509.5" x2="118.1" y2="509.5" stroke="#d8237a" stroke-width="0.8"/>
<line x1="114.9" y1="513.5" x2="118.1" y2="513.5" stroke="#d8237a" stroke-width="0.8"/>
<line x1="150.4" y1="465.5" x2="150.4" y2="472" stroke="#d8237a" stroke-width="0.8"/>
<line x1="148.8" y1="465.5" x2="152" y2="465.5" stroke="#d8237a" stroke-width="0.8"/>
<line x1="148.8" y1="472" x2="152" y2="472" stroke="#d8237a" stroke-width="0.8"/>
<circle cx="82.3" cy="528.4" r="2.1" fill="#d8237a"/>
<circle cx="116.5" cy="511.5" r="2.1" fill="#d8237a"/>
<circle cx="150.4" cy="468.8" r="2.1" fill="#d8237a"/>
<circle cx="113.4" cy="503.8" r="1.05" fill="#2f2f31"/>
<circle cx="116.5" cy="503.8" r="1.05" fill="#2f2f31"/>
<circle cx="119.6" cy="503.8" r="1.05" fill="#2f2f31"/>
<circle cx="147.3" cy="462.8" r="1.05" fill="#2f2f31"/>
<circle cx="150.4" cy="462.8" r="1.05" fill="#2f2f31"/>
<circle cx="153.5" cy="462.8" r="1.05" fill="#2f2f31"/>
<line x1="70.8" y1="452.7" x2="82.8" y2="452.7" stroke="#d8237a" stroke-width="1.3"/>
<circle cx="76.8" cy="452.7" r="2.3" fill="#d8237a"/>
<text x="86.9" y="455.3" font-size="7.4" text-anchor="start" fill="#231f20" textLength="17" lengthAdjust="spacingAndGlyphs" stroke="#231f20" stroke-width="0.12" font-style="italic">shScr</text>
<line x1="70.8" y1="463.5" x2="82.8" y2="463.5" stroke="#6e3b16" stroke-width="1.3"/>
<path d="M74.27,461.66 L79.33,461.66 L76.8,466.03 Z" fill="#6e3b16"/>
<text x="86.9" y="466.1" font-size="7.4" text-anchor="start" fill="#231f20" textLength="29.6" lengthAdjust="spacingAndGlyphs" stroke="#231f20" stroke-width="0.12">shHES4-1</text>
<line x1="70.8" y1="474.2" x2="82.8" y2="474.2" stroke="#c97a2c" stroke-width="1.3" stroke-dasharray="1.3,1.3"/>
<rect x="74.5" y="471.9" width="4.6" height="4.6" fill="#c97a2c"/>
<text x="86.9" y="476.8" font-size="7.4" text-anchor="start" fill="#231f20" textLength="29.6" lengthAdjust="spacingAndGlyphs" stroke="#231f20" stroke-width="0.12">shHES4-2</text>
<text transform="translate(21.95,488.4) rotate(-90)" x="0" y="0" font-size="9.5" text-anchor="middle" fill="#231f20" stroke="#231f20" stroke-width="0.2" textLength="45.6" lengthAdjust="spacingAndGlyphs">Cherry+ cells</text>
<text transform="translate(33.36,488.8) rotate(-90)" x="0" y="0" font-size="9.5" text-anchor="middle" fill="#231f20" stroke="#231f20" stroke-width="0.2" textLength="74.8" lengthAdjust="spacingAndGlyphs">(absolute cell number)</text>
<line x1="239.2" y1="445.7" x2="239.2" y2="528.8" stroke="#231f20" stroke-width="1.2"/>
<line x1="236.2" y1="528.2" x2="239.2" y2="528.2" stroke="#231f20" stroke-width="1.1"/>
<text transform="translate(232.2,530.47) scale(1.12,1)" x="0" y="0" font-size="6.3" text-anchor="end" fill="#231f20" stroke="#231f20" stroke-width="0.1">0</text>
<line x1="236.2" y1="501.7" x2="239.2" y2="501.7" stroke="#231f20" stroke-width="1.1"/>
<text transform="translate(232.2,503.97) scale(1.12,1)" x="0" y="0" font-size="6.3" text-anchor="end" fill="#231f20" stroke="#231f20" stroke-width="0.1">2×10<tspan font-size="4.16" dy="-2.65">6</tspan></text>
<line x1="236.2" y1="475.2" x2="239.2" y2="475.2" stroke="#231f20" stroke-width="1.1"/>
<text transform="translate(232.2,477.47) scale(1.12,1)" x="0" y="0" font-size="6.3" text-anchor="end" fill="#231f20" stroke="#231f20" stroke-width="0.1">4×10<tspan font-size="4.16" dy="-2.65">6</tspan></text>
<line x1="236.2" y1="448.7" x2="239.2" y2="448.7" stroke="#231f20" stroke-width="1.1"/>
<text transform="translate(232.2,450.97) scale(1.12,1)" x="0" y="0" font-size="6.3" text-anchor="end" fill="#231f20" stroke="#231f20" stroke-width="0.1">6×10<tspan font-size="4.16" dy="-2.65">6</tspan></text>
<line x1="238.6" y1="528.2" x2="341.2" y2="528.2" stroke="#231f20" stroke-width="1.2"/>
<line x1="257" y1="528.2" x2="257" y2="531" stroke="#231f20" stroke-width="1"/>
<line x1="290.5" y1="528.2" x2="290.5" y2="531" stroke="#231f20" stroke-width="1"/>
<line x1="324.2" y1="528.2" x2="324.2" y2="531" stroke="#231f20" stroke-width="1"/>
<text x="257" y="541" font-size="7" text-anchor="middle" fill="#231f20" stroke="#231f20" stroke-width="0.12">0</text>
<text x="290.5" y="541" font-size="7" text-anchor="middle" fill="#231f20" stroke="#231f20" stroke-width="0.12">3</text>
<text x="324.2" y="541" font-size="7" text-anchor="middle" fill="#231f20" stroke="#231f20" stroke-width="0.12">7</text>
<text x="290.15" y="439.4" font-size="9.2" text-anchor="middle" fill="#231f20" textLength="27.6" lengthAdjust="spacingAndGlyphs" stroke="#231f20" stroke-width="0.12">TALL-1</text>
<text x="290.6" y="555.4" font-size="9.5" text-anchor="middle" fill="#231f20" textLength="95.8" lengthAdjust="spacingAndGlyphs" stroke="#231f20" stroke-width="0.2">Post-transduction time (days)</text>
<path d="M257,528 L290.5,528 L324.2,528" fill="none" stroke="#c97a2c" stroke-width="1.3" stroke-dasharray="1.3,1.3"/>
<line x1="290.5" y1="526" x2="290.5" y2="530" stroke="#c97a2c" stroke-width="0.8"/>
<line x1="288.9" y1="526" x2="292.1" y2="526" stroke="#c97a2c" stroke-width="0.8"/>
<line x1="288.9" y1="530" x2="292.1" y2="530" stroke="#c97a2c" stroke-width="0.8"/>
<rect x="254.9" y="525.9" width="4.2" height="4.2" fill="#c97a2c"/>
<rect x="288.4" y="525.9" width="4.2" height="4.2" fill="#c97a2c"/>
<rect x="322.1" y="525.9" width="4.2" height="4.2" fill="#c97a2c"/>
<path d="M257,527 L290.5,515 L324.2,514.3" fill="none" stroke="#6e3b16" stroke-width="1.3"/>
<line x1="290.5" y1="507.4" x2="290.5" y2="523" stroke="#6e3b16" stroke-width="0.8"/>
<line x1="288.9" y1="507.4" x2="292.1" y2="507.4" stroke="#6e3b16" stroke-width="0.8"/>
<line x1="288.9" y1="523" x2="292.1" y2="523" stroke="#6e3b16" stroke-width="0.8"/>
<line x1="324.2" y1="508" x2="324.2" y2="521.2" stroke="#6e3b16" stroke-width="0.8"/>
<line x1="322.6" y1="508" x2="325.8" y2="508" stroke="#6e3b16" stroke-width="0.8"/>
<line x1="322.6" y1="521.2" x2="325.8" y2="521.2" stroke="#6e3b16" stroke-width="0.8"/>
<path d="M254.69,525.32 L259.31,525.32 L257,529.31 Z" fill="#6e3b16"/>
<path d="M288.19,513.32 L292.81,513.32 L290.5,517.31 Z" fill="#6e3b16"/>
<path d="M321.89,512.62 L326.51,512.62 L324.2,516.61 Z" fill="#6e3b16"/>
<path d="M257,527 L290.5,488.5 L324.2,462.4" fill="none" stroke="#d8237a" stroke-width="1.3"/>
<line x1="290.5" y1="485.5" x2="290.5" y2="491.5" stroke="#d8237a" stroke-width="0.8"/>
<line x1="288.9" y1="485.5" x2="292.1" y2="485.5" stroke="#d8237a" stroke-width="0.8"/>
<line x1="288.9" y1="491.5" x2="292.1" y2="491.5" stroke="#d8237a" stroke-width="0.8"/>
<line x1="324.2" y1="456.2" x2="324.2" y2="468.8" stroke="#d8237a" stroke-width="0.8"/>
<line x1="322.6" y1="456.2" x2="325.8" y2="456.2" stroke="#d8237a" stroke-width="0.8"/>
<line x1="322.6" y1="468.8" x2="325.8" y2="468.8" stroke="#d8237a" stroke-width="0.8"/>
<circle cx="257" cy="527" r="2.1" fill="#d8237a"/>
<circle cx="290.5" cy="488.5" r="2.1" fill="#d8237a"/>
<circle cx="324.2" cy="462.4" r="2.1" fill="#d8237a"/>
<circle cx="288.95" cy="483.8" r="1.05" fill="#2f2f31"/>
<circle cx="292.05" cy="483.8" r="1.05" fill="#2f2f31"/>
<circle cx="321.1" cy="454.8" r="1.05" fill="#2f2f31"/>
<circle cx="324.2" cy="454.8" r="1.05" fill="#2f2f31"/>
<circle cx="327.3" cy="454.8" r="1.05" fill="#2f2f31"/>
<line x1="244.3" y1="452.7" x2="256.1" y2="452.7" stroke="#d8237a" stroke-width="1.3"/>
<circle cx="250.2" cy="452.7" r="2.3" fill="#d8237a"/>
<text x="260" y="455.3" font-size="7.4" text-anchor="start" fill="#231f20" textLength="17" lengthAdjust="spacingAndGlyphs" stroke="#231f20" stroke-width="0.12">shScr</text>
<line x1="244.3" y1="463.5" x2="256.1" y2="463.5" stroke="#6e3b16" stroke-width="1.3"/>
<path d="M247.67,461.66 L252.73,461.66 L250.2,466.03 Z" fill="#6e3b16"/>
<text x="260" y="466.1" font-size="7.4" text-anchor="start" fill="#231f20" textLength="29.6" lengthAdjust="spacingAndGlyphs" stroke="#231f20" stroke-width="0.12">shHES4-1</text>
<line x1="244.3" y1="474.2" x2="256.1" y2="474.2" stroke="#c97a2c" stroke-width="1.3" stroke-dasharray="1.3,1.3"/>
<rect x="247.9" y="471.9" width="4.6" height="4.6" fill="#c97a2c"/>
<text x="260" y="476.8" font-size="7.4" text-anchor="start" fill="#231f20" textLength="29.6" lengthAdjust="spacingAndGlyphs" stroke="#231f20" stroke-width="0.12">shHES4-2</text>
<text transform="translate(195.56,487.3) rotate(-90)" x="0" y="0" font-size="9.5" text-anchor="middle" fill="#231f20" stroke="#231f20" stroke-width="0.2" textLength="45" lengthAdjust="spacingAndGlyphs">Cherry+ cells</text>
<text transform="translate(207.66,487.4) rotate(-90)" x="0" y="0" font-size="9.5" text-anchor="middle" fill="#231f20" stroke="#231f20" stroke-width="0.2" textLength="76.2" lengthAdjust="spacingAndGlyphs">(absolute cell number)</text>
<line x1="410.4" y1="445.1" x2="410.4" y2="527.1" stroke="#231f20" stroke-width="1.2"/>
<line x1="407.4" y1="526.5" x2="410.4" y2="526.5" stroke="#231f20" stroke-width="1.1"/>
<text transform="translate(403.4,528.77) scale(1.12,1)" x="0" y="0" font-size="6.3" text-anchor="end" fill="#231f20" stroke="#231f20" stroke-width="0.1">0</text>
<line x1="407.4" y1="506.9" x2="410.4" y2="506.9" stroke="#231f20" stroke-width="1.1"/>
<text transform="translate(403.4,509.17) scale(1.12,1)" x="0" y="0" font-size="6.3" text-anchor="end" fill="#231f20" stroke="#231f20" stroke-width="0.1">2×10<tspan font-size="4.16" dy="-2.65">5</tspan></text>
<line x1="407.4" y1="487.3" x2="410.4" y2="487.3" stroke="#231f20" stroke-width="1.1"/>
<text transform="translate(403.4,489.57) scale(1.12,1)" x="0" y="0" font-size="6.3" text-anchor="end" fill="#231f20" stroke="#231f20" stroke-width="0.1">4×10<tspan font-size="4.16" dy="-2.65">5</tspan></text>
<line x1="407.4" y1="467.7" x2="410.4" y2="467.7" stroke="#231f20" stroke-width="1.1"/>
<text transform="translate(403.4,469.97) scale(1.12,1)" x="0" y="0" font-size="6.3" text-anchor="end" fill="#231f20" stroke="#231f20" stroke-width="0.1">6×10<tspan font-size="4.16" dy="-2.65">5</tspan></text>
<line x1="407.4" y1="448.1" x2="410.4" y2="448.1" stroke="#231f20" stroke-width="1.1"/>
<text transform="translate(403.4,450.37) scale(1.12,1)" x="0" y="0" font-size="6.3" text-anchor="end" fill="#231f20" stroke="#231f20" stroke-width="0.1">8×10<tspan font-size="4.16" dy="-2.65">5</tspan></text>
<line x1="409.8" y1="526.5" x2="512.6" y2="526.5" stroke="#231f20" stroke-width="1.2"/>
<line x1="427.7" y1="526.5" x2="427.7" y2="529.3" stroke="#231f20" stroke-width="1"/>
<line x1="461.2" y1="526.5" x2="461.2" y2="529.3" stroke="#231f20" stroke-width="1"/>
<line x1="495.1" y1="526.5" x2="495.1" y2="529.3" stroke="#231f20" stroke-width="1"/>
<text x="427.7" y="539.3" font-size="7" text-anchor="middle" fill="#231f20" stroke="#231f20" stroke-width="0.12">0</text>
<text x="461.2" y="539.3" font-size="7" text-anchor="middle" fill="#231f20" stroke="#231f20" stroke-width="0.12">3</text>
<text x="495.1" y="539.3" font-size="7" text-anchor="middle" fill="#231f20" stroke="#231f20" stroke-width="0.12">7</text>
<text x="461.75" y="438.4" font-size="9.2" text-anchor="middle" fill="#231f20" textLength="45.5" lengthAdjust="spacingAndGlyphs" stroke="#231f20" stroke-width="0.12">RPMI-8402</text>
<text x="461.7" y="553.3" font-size="9.5" text-anchor="middle" fill="#231f20" textLength="95.8" lengthAdjust="spacingAndGlyphs" stroke="#231f20" stroke-width="0.2">Post-transduction time (days)</text>
<path d="M427.7,526.2 L461.2,525.8 L495.1,526.4" fill="none" stroke="#c97a2c" stroke-width="1.3" stroke-dasharray="1.3,1.3"/>
<rect x="425.6" y="524.1" width="4.2" height="4.2" fill="#c97a2c"/>
<rect x="459.1" y="523.7" width="4.2" height="4.2" fill="#c97a2c"/>
<rect x="493" y="524.3" width="4.2" height="4.2" fill="#c97a2c"/>
<path d="M427.7,526 L461.2,525.5 L495.1,526.3" fill="none" stroke="#6e3b16" stroke-width="1.3"/>
<path d="M425.39,524.32 L430.01,524.32 L427.7,528.31 Z" fill="#6e3b16"/>
<path d="M458.89,523.82 L463.51,523.82 L461.2,527.81 Z" fill="#6e3b16"/>
<path d="M492.79,524.62 L497.41,524.62 L495.1,528.61 Z" fill="#6e3b16"/>
<path d="M427.7,526 L461.2,513.4 L495.1,475.8" fill="none" stroke="#d8237a" stroke-width="1.3"/>
<line x1="495.1" y1="467.7" x2="495.1" y2="483.8" stroke="#d8237a" stroke-width="0.8"/>
<line x1="493.5" y1="467.7" x2="496.7" y2="467.7" stroke="#d8237a" stroke-width="0.8"/>
<line x1="493.5" y1="483.8" x2="496.7" y2="483.8" stroke="#d8237a" stroke-width="0.8"/>
<circle cx="427.7" cy="526" r="2.1" fill="#d8237a"/>
<circle cx="461.2" cy="513.4" r="2.1" fill="#d8237a"/>
<circle cx="495.1" cy="475.8" r="2.1" fill="#d8237a"/>
<circle cx="458.1" cy="509.1" r="1.05" fill="#2f2f31"/>
<circle cx="461.2" cy="509.1" r="1.05" fill="#2f2f31"/>
<circle cx="464.3" cy="509.1" r="1.05" fill="#2f2f31"/>
<circle cx="492" cy="464.5" r="1.05" fill="#2f2f31"/>
<circle cx="495.1" cy="464.5" r="1.05" fill="#2f2f31"/>
<circle cx="498.2" cy="464.5" r="1.05" fill="#2f2f31"/>
<line x1="415.7" y1="452.7" x2="427.2" y2="452.7" stroke="#d8237a" stroke-width="1.3"/>
<circle cx="421.45" cy="452.7" r="2.3" fill="#d8237a"/>
<text x="431.2" y="455.3" font-size="7.4" text-anchor="start" fill="#231f20" textLength="17" lengthAdjust="spacingAndGlyphs" stroke="#231f20" stroke-width="0.12">shScr</text>
<line x1="415.7" y1="463.5" x2="427.2" y2="463.5" stroke="#6e3b16" stroke-width="1.3"/>
<path d="M418.92,461.66 L423.98,461.66 L421.45,466.03 Z" fill="#6e3b16"/>
<text x="431.2" y="466.1" font-size="7.4" text-anchor="start" fill="#231f20" textLength="29.6" lengthAdjust="spacingAndGlyphs" stroke="#231f20" stroke-width="0.12">shHES4-1</text>
<line x1="415.7" y1="474.2" x2="427.2" y2="474.2" stroke="#c97a2c" stroke-width="1.3" stroke-dasharray="1.3,1.3"/>
<rect x="419.15" y="471.9" width="4.6" height="4.6" fill="#c97a2c"/>
<text x="431.2" y="476.8" font-size="7.4" text-anchor="start" fill="#231f20" textLength="29.6" lengthAdjust="spacingAndGlyphs" stroke="#231f20" stroke-width="0.12">shHES4-2</text>
<text transform="translate(366.95,485.3) rotate(-90)" x="0" y="0" font-size="9.5" text-anchor="middle" fill="#231f20" stroke="#231f20" stroke-width="0.2" textLength="45" lengthAdjust="spacingAndGlyphs">Cherry+ cells</text>
<text transform="translate(378.36,485.6) rotate(-90)" x="0" y="0" font-size="9.5" text-anchor="middle" fill="#231f20" stroke="#231f20" stroke-width="0.2" textLength="75.5" lengthAdjust="spacingAndGlyphs">(absolute cell number)</text>
<line x1="67.5" y1="583.5" x2="67.5" y2="666.3" stroke="#231f20" stroke-width="1.2"/>
<line x1="64.5" y1="665.7" x2="67.5" y2="665.7" stroke="#231f20" stroke-width="1.1"/>
<text transform="translate(60.5,667.97) scale(1.12,1)" x="0" y="0" font-size="6.3" text-anchor="end" fill="#231f20" stroke="#231f20" stroke-width="0.1">0</text>
<line x1="64.5" y1="639.3" x2="67.5" y2="639.3" stroke="#231f20" stroke-width="1.1"/>
<text transform="translate(60.5,641.57) scale(1.12,1)" x="0" y="0" font-size="6.3" text-anchor="end" fill="#231f20" stroke="#231f20" stroke-width="0.1">2×10<tspan font-size="4.16" dy="-2.65">6</tspan></text>
<line x1="64.5" y1="612.9" x2="67.5" y2="612.9" stroke="#231f20" stroke-width="1.1"/>
<text transform="translate(60.5,615.17) scale(1.12,1)" x="0" y="0" font-size="6.3" text-anchor="end" fill="#231f20" stroke="#231f20" stroke-width="0.1">4×10<tspan font-size="4.16" dy="-2.65">6</tspan></text>
<line x1="64.5" y1="586.5" x2="67.5" y2="586.5" stroke="#231f20" stroke-width="1.1"/>
<text transform="translate(60.5,588.77) scale(1.12,1)" x="0" y="0" font-size="6.3" text-anchor="end" fill="#231f20" stroke="#231f20" stroke-width="0.1">6×10<tspan font-size="4.16" dy="-2.65">6</tspan></text>
<line x1="66.9" y1="665.7" x2="165.4" y2="665.7" stroke="#231f20" stroke-width="1.2"/>
<line x1="84.2" y1="665.7" x2="84.2" y2="668.5" stroke="#231f20" stroke-width="1"/>
<line x1="118.1" y1="665.7" x2="118.1" y2="668.5" stroke="#231f20" stroke-width="1"/>
<line x1="151.5" y1="665.7" x2="151.5" y2="668.5" stroke="#231f20" stroke-width="1"/>
<text x="84.2" y="678.5" font-size="7" text-anchor="middle" fill="#231f20" stroke="#231f20" stroke-width="0.12">0</text>
<text x="118.1" y="678.5" font-size="7" text-anchor="middle" fill="#231f20" stroke="#231f20" stroke-width="0.12">3</text>
<text x="151.5" y="678.5" font-size="7" text-anchor="middle" fill="#231f20" stroke="#231f20" stroke-width="0.12">7</text>
<text x="117.5" y="577.7" font-size="9.2" text-anchor="middle" fill="#231f20" textLength="33.2" lengthAdjust="spacingAndGlyphs" stroke="#231f20" stroke-width="0.12">DND-41</text>
<text x="117.5" y="691.1" font-size="9.5" text-anchor="middle" fill="#231f20" textLength="95.8" lengthAdjust="spacingAndGlyphs" stroke="#231f20" stroke-width="0.2">Post-transduction time (days)</text>
<path d="M84.2,665 L118.1,647.7 L151.5,636.2" fill="none" stroke="#c4c4c8" stroke-width="1.3"/>
<line x1="118.1" y1="643.8" x2="118.1" y2="651.6" stroke="#c4c4c8" stroke-width="0.8"/>
<line x1="116.5" y1="643.8" x2="119.7" y2="643.8" stroke="#c4c4c8" stroke-width="0.8"/>
<line x1="116.5" y1="651.6" x2="119.7" y2="651.6" stroke="#c4c4c8" stroke-width="0.8"/>
<line x1="151.5" y1="632.7" x2="151.5" y2="640" stroke="#c4c4c8" stroke-width="0.8"/>
<line x1="149.9" y1="632.7" x2="153.1" y2="632.7" stroke="#c4c4c8" stroke-width="0.8"/>
<line x1="149.9" y1="640" x2="153.1" y2="640" stroke="#c4c4c8" stroke-width="0.8"/>
<path d="M81.89,663.32 L86.51,663.32 L84.2,667.31 Z" fill="#c4c4c8"/>
<path d="M115.79,646.02 L120.41,646.02 L118.1,650.01 Z" fill="#c4c4c8"/>
<path d="M149.19,634.52 L153.81,634.52 L151.5,638.51 Z" fill="#c4c4c8"/>
<path d="M84.2,665 L118.1,634.5 L151.5,603.2" fill="none" stroke="#f0951d" stroke-width="1.3"/>
<line x1="118.1" y1="629.2" x2="118.1" y2="640" stroke="#f0951d" stroke-width="0.8"/>
<line x1="116.5" y1="629.2" x2="119.7" y2="629.2" stroke="#f0951d" stroke-width="0.8"/>
<line x1="116.5" y1="640" x2="119.7" y2="640" stroke="#f0951d" stroke-width="0.8"/>
<line x1="151.5" y1="596.2" x2="151.5" y2="609.6" stroke="#f0951d" stroke-width="0.8"/>
<line x1="149.9" y1="596.2" x2="153.1" y2="596.2" stroke="#f0951d" stroke-width="0.8"/>
<line x1="149.9" y1="609.6" x2="153.1" y2="609.6" stroke="#f0951d" stroke-width="0.8"/>
<circle cx="84.2" cy="665" r="2.1" fill="#f0951d"/>
<circle cx="118.1" cy="634.5" r="2.1" fill="#f0951d"/>
<circle cx="151.5" cy="603.2" r="2.1" fill="#f0951d"/>
<circle cx="118.1" cy="626.1" r="1.05" fill="#2f2f31"/>
<circle cx="148.4" cy="593.3" r="1.05" fill="#2f2f31"/>
<circle cx="151.5" cy="593.3" r="1.05" fill="#2f2f31"/>
<circle cx="154.6" cy="593.3" r="1.05" fill="#2f2f31"/>
<line x1="74.4" y1="588.3" x2="87.1" y2="588.3" stroke="#c4c4c8" stroke-width="1.3"/>
<path d="M78.22,586.46 L83.28,586.46 L80.75,590.83 Z" fill="#c4c4c8"/>
<text x="90.8" y="590.9" font-size="7.4" text-anchor="start" fill="#231f20" textLength="28.2" lengthAdjust="spacingAndGlyphs" stroke="#231f20" stroke-width="0.12">Empty V.</text>
<line x1="74.4" y1="599" x2="87.1" y2="599" stroke="#f0951d" stroke-width="1.3"/>
<circle cx="80.75" cy="599" r="2.3" fill="#f0951d"/>
<text x="90.8" y="601.6" font-size="7.4" text-anchor="start" fill="#231f20" textLength="17.3" lengthAdjust="spacingAndGlyphs" stroke="#231f20" stroke-width="0.12">HES4</text>
<text transform="translate(24.55,624.7) rotate(-90)" x="0" y="0" font-size="9.5" text-anchor="middle" fill="#231f20" stroke="#231f20" stroke-width="0.2" textLength="57.8" lengthAdjust="spacingAndGlyphs">mTag2BFP+ cells</text>
<text transform="translate(36.26,625) rotate(-90)" x="0" y="0" font-size="9.5" text-anchor="middle" fill="#231f20" stroke="#231f20" stroke-width="0.2" textLength="76.7" lengthAdjust="spacingAndGlyphs">(absolute cell number)</text>
<line x1="237.9" y1="583.1" x2="237.9" y2="664.9" stroke="#231f20" stroke-width="1.2"/>
<line x1="234.9" y1="664.3" x2="237.9" y2="664.3" stroke="#231f20" stroke-width="1.1"/>
<text transform="translate(230.9,666.57) scale(1.12,1)" x="0" y="0" font-size="6.3" text-anchor="end" fill="#231f20" stroke="#231f20" stroke-width="0.1">0</text>
<line x1="234.9" y1="644.75" x2="237.9" y2="644.75" stroke="#231f20" stroke-width="1.1"/>
<text transform="translate(230.9,647.02) scale(1.12,1)" x="0" y="0" font-size="6.3" text-anchor="end" fill="#231f20" stroke="#231f20" stroke-width="0.1">2×10<tspan font-size="4.16" dy="-2.65">6</tspan></text>
<line x1="234.9" y1="625.2" x2="237.9" y2="625.2" stroke="#231f20" stroke-width="1.1"/>
<text transform="translate(230.9,627.47) scale(1.12,1)" x="0" y="0" font-size="6.3" text-anchor="end" fill="#231f20" stroke="#231f20" stroke-width="0.1">4×10<tspan font-size="4.16" dy="-2.65">6</tspan></text>
<line x1="234.9" y1="605.65" x2="237.9" y2="605.65" stroke="#231f20" stroke-width="1.1"/>
<text transform="translate(230.9,607.92) scale(1.12,1)" x="0" y="0" font-size="6.3" text-anchor="end" fill="#231f20" stroke="#231f20" stroke-width="0.1">6×10<tspan font-size="4.16" dy="-2.65">6</tspan></text>
<line x1="234.9" y1="586.1" x2="237.9" y2="586.1" stroke="#231f20" stroke-width="1.1"/>
<text transform="translate(230.9,588.37) scale(1.12,1)" x="0" y="0" font-size="6.3" text-anchor="end" fill="#231f20" stroke="#231f20" stroke-width="0.1">8×10<tspan font-size="4.16" dy="-2.65">6</tspan></text>
<line x1="237.3" y1="664.3" x2="341.2" y2="664.3" stroke="#231f20" stroke-width="1.2"/>
<line x1="255.8" y1="664.3" x2="255.8" y2="667.1" stroke="#231f20" stroke-width="1"/>
<line x1="289.5" y1="664.3" x2="289.5" y2="667.1" stroke="#231f20" stroke-width="1"/>
<line x1="323.5" y1="664.3" x2="323.5" y2="667.1" stroke="#231f20" stroke-width="1"/>
<text x="255.8" y="677.1" font-size="7" text-anchor="middle" fill="#231f20" stroke="#231f20" stroke-width="0.12">0</text>
<text x="289.5" y="677.1" font-size="7" text-anchor="middle" fill="#231f20" stroke="#231f20" stroke-width="0.12">3</text>
<text x="323.5" y="677.1" font-size="7" text-anchor="middle" fill="#231f20" stroke="#231f20" stroke-width="0.12">7</text>
<text x="290" y="577.1" font-size="9.2" text-anchor="middle" fill="#231f20" textLength="30.9" lengthAdjust="spacingAndGlyphs" stroke="#231f20" stroke-width="0.12">ALL-SIL</text>
<text x="290" y="691.1" font-size="9.5" text-anchor="middle" fill="#231f20" textLength="97" lengthAdjust="spacingAndGlyphs" stroke="#231f20" stroke-width="0.2">Post-transduction time (days)</text>
<path d="M255.8,664 L289.5,644.2 L323.5,627.6" fill="none" stroke="#c4c4c8" stroke-width="1.3"/>
<line x1="289.5" y1="642" x2="289.5" y2="646.5" stroke="#c4c4c8" stroke-width="0.8"/>
<line x1="287.9" y1="642" x2="291.1" y2="642" stroke="#c4c4c8" stroke-width="0.8"/>
<line x1="287.9" y1="646.5" x2="291.1" y2="646.5" stroke="#c4c4c8" stroke-width="0.8"/>
<line x1="323.5" y1="618.8" x2="323.5" y2="636.2" stroke="#c4c4c8" stroke-width="0.8"/>
<line x1="321.9" y1="618.8" x2="325.1" y2="618.8" stroke="#c4c4c8" stroke-width="0.8"/>
<line x1="321.9" y1="636.2" x2="325.1" y2="636.2" stroke="#c4c4c8" stroke-width="0.8"/>
<path d="M253.49,662.32 L258.11,662.32 L255.8,666.31 Z" fill="#c4c4c8"/>
<path d="M287.19,642.52 L291.81,642.52 L289.5,646.51 Z" fill="#c4c4c8"/>
<path d="M321.19,625.92 L325.81,625.92 L323.5,629.91 Z" fill="#c4c4c8"/>
<path d="M255.8,664 L289.5,634.5 L323.5,596.2" fill="none" stroke="#f0951d" stroke-width="1.3"/>
<line x1="289.5" y1="632.5" x2="289.5" y2="636.5" stroke="#f0951d" stroke-width="0.8"/>
<line x1="287.9" y1="632.5" x2="291.1" y2="632.5" stroke="#f0951d" stroke-width="0.8"/>
<line x1="287.9" y1="636.5" x2="291.1" y2="636.5" stroke="#f0951d" stroke-width="0.8"/>
<line x1="323.5" y1="593.5" x2="323.5" y2="599" stroke="#f0951d" stroke-width="0.8"/>
<line x1="321.9" y1="593.5" x2="325.1" y2="593.5" stroke="#f0951d" stroke-width="0.8"/>
<line x1="321.9" y1="599" x2="325.1" y2="599" stroke="#f0951d" stroke-width="0.8"/>
<circle cx="255.8" cy="664" r="2.1" fill="#f0951d"/>
<circle cx="289.5" cy="634.5" r="2.1" fill="#f0951d"/>
<circle cx="323.5" cy="596.2" r="2.1" fill="#f0951d"/>
<circle cx="286.4" cy="629.5" r="1.05" fill="#2f2f31"/>
<circle cx="289.5" cy="629.5" r="1.05" fill="#2f2f31"/>
<circle cx="292.6" cy="629.5" r="1.05" fill="#2f2f31"/>
<circle cx="320.4" cy="591" r="1.05" fill="#2f2f31"/>
<circle cx="323.5" cy="591" r="1.05" fill="#2f2f31"/>
<circle cx="326.6" cy="591" r="1.05" fill="#2f2f31"/>
<line x1="246.2" y1="586.1" x2="258.8" y2="586.1" stroke="#c4c4c8" stroke-width="1.3"/>
<path d="M249.97,584.26 L255.03,584.26 L252.5,588.63 Z" fill="#c4c4c8"/>
<text x="262.3" y="588.7" font-size="7.4" text-anchor="start" fill="#231f20" textLength="29" lengthAdjust="spacingAndGlyphs" stroke="#231f20" stroke-width="0.12">Empty V.</text>
<line x1="246.2" y1="598.1" x2="258.8" y2="598.1" stroke="#f0951d" stroke-width="1.3"/>
<circle cx="252.5" cy="598.1" r="2.3" fill="#f0951d"/>
<text x="262.3" y="600.7" font-size="7.4" text-anchor="start" fill="#231f20" textLength="18" lengthAdjust="spacingAndGlyphs" stroke="#231f20" stroke-width="0.12">HES4</text>
<text transform="translate(196.25,624) rotate(-90)" x="0" y="0" font-size="9.5" text-anchor="middle" fill="#231f20" stroke="#231f20" stroke-width="0.2" textLength="57.7" lengthAdjust="spacingAndGlyphs">mTag2BFP+ cells</text>
<text transform="translate(207.66,623.9) rotate(-90)" x="0" y="0" font-size="9.5" text-anchor="middle" fill="#231f20" stroke="#231f20" stroke-width="0.2" textLength="76.2" lengthAdjust="spacingAndGlyphs">(absolute cell number)</text>
<rect x="199.6" y="29.4" width="11.72" height="2.34" fill="#ee6a48"/>
<rect x="199.6" y="31.68" width="11.72" height="2.34" fill="#f6a68d"/>
<rect x="199.6" y="33.97" width="11.72" height="2.34" fill="#f1795b"/>
<rect x="199.6" y="36.25" width="11.72" height="2.34" fill="#f6a58b"/>
<rect x="199.6" y="38.53" width="11.72" height="2.34" fill="#f8d3c6"/>
<rect x="199.6" y="40.82" width="11.72" height="2.34" fill="#f8d4c7"/>
<rect x="199.6" y="43.1" width="11.72" height="2.34" fill="#f0e8ed"/>
<rect x="199.6" y="45.39" width="11.72" height="2.34" fill="#f4ecf0"/>
<rect x="199.6" y="47.67" width="11.72" height="2.34" fill="#f4edf0"/>
<rect x="199.6" y="49.95" width="11.72" height="2.34" fill="#f7ab93"/>
<rect x="199.6" y="52.24" width="11.72" height="2.34" fill="#ea6847"/>
<rect x="199.6" y="54.52" width="11.72" height="2.34" fill="#ed6947"/>
<rect x="199.6" y="56.8" width="11.72" height="2.34" fill="#de3f1f"/>
<rect x="199.6" y="59.09" width="11.72" height="2.34" fill="#e44e30"/>
<rect x="199.6" y="61.37" width="11.72" height="2.34" fill="#f07150"/>
<rect x="199.6" y="63.66" width="11.72" height="2.34" fill="#f1a189"/>
<rect x="199.6" y="65.94" width="11.72" height="2.34" fill="#f7af98"/>
<rect x="199.6" y="68.22" width="11.72" height="2.34" fill="#e55538"/>
<rect x="199.6" y="70.51" width="11.72" height="2.34" fill="#f0704f"/>
<rect x="199.6" y="72.79" width="11.72" height="2.34" fill="#ef6e4d"/>
<rect x="199.6" y="75.07" width="11.72" height="2.34" fill="#f2a289"/>
<rect x="199.6" y="77.36" width="11.72" height="2.34" fill="#e96847"/>
<rect x="199.6" y="79.64" width="11.72" height="2.34" fill="#ef6b49"/>
<rect x="199.6" y="81.92" width="11.72" height="2.34" fill="#f1a289"/>
<rect x="199.6" y="84.21" width="11.72" height="2.34" fill="#f2a389"/>
<rect x="199.6" y="86.49" width="11.72" height="2.34" fill="#df3f1f"/>
<rect x="199.6" y="88.78" width="11.72" height="2.34" fill="#dd3f1e"/>
<rect x="199.6" y="91.06" width="11.72" height="2.34" fill="#f8d3c6"/>
<rect x="199.6" y="93.34" width="11.72" height="2.34" fill="#bbb1e2"/>
<rect x="199.6" y="95.63" width="11.72" height="2.34" fill="#a090d6"/>
<rect x="199.6" y="97.91" width="11.72" height="2.34" fill="#bcb2e2"/>
<rect x="199.6" y="100.19" width="11.72" height="2.34" fill="#ddd7f0"/>
<rect x="199.6" y="102.48" width="11.72" height="2.34" fill="#dcd6ef"/>
<rect x="199.6" y="104.76" width="11.72" height="2.34" fill="#9c8bd4"/>
<rect x="199.6" y="107.04" width="11.72" height="2.34" fill="#bcb2e2"/>
<rect x="199.6" y="109.33" width="11.72" height="2.34" fill="#9685d0"/>
<rect x="199.6" y="111.61" width="11.72" height="2.34" fill="#f5eef2"/>
<rect x="199.6" y="113.9" width="11.72" height="2.34" fill="#c4bbe5"/>
<rect x="199.6" y="116.18" width="11.72" height="2.34" fill="#c1b8e4"/>
<rect x="199.6" y="118.46" width="11.72" height="2.34" fill="#5846a3"/>
<rect x="199.6" y="120.75" width="11.72" height="2.34" fill="#9785d1"/>
<rect x="199.6" y="123.03" width="11.72" height="2.34" fill="#4e3b9c"/>
<rect x="199.6" y="125.31" width="11.72" height="2.34" fill="#bab0e0"/>
<rect x="199.6" y="127.6" width="11.72" height="2.34" fill="#b8aedf"/>
<rect x="199.6" y="129.88" width="11.72" height="2.34" fill="#5a48a4"/>
<rect x="199.6" y="132.17" width="11.72" height="2.34" fill="#4f3c9d"/>
<rect x="199.6" y="134.45" width="11.72" height="2.34" fill="#dfd9f0"/>
<rect x="199.6" y="136.73" width="11.72" height="2.34" fill="#9785d1"/>
<rect x="199.6" y="139.02" width="11.72" height="2.34" fill="#a393d7"/>
<rect x="211.27" y="29.4" width="11.72" height="2.34" fill="#f7ad95"/>
<rect x="211.27" y="31.68" width="11.72" height="2.34" fill="#e96747"/>
<rect x="211.27" y="33.97" width="11.72" height="2.34" fill="#f5d0c4"/>
<rect x="211.27" y="36.25" width="11.72" height="2.34" fill="#f7ae96"/>
<rect x="211.27" y="38.53" width="11.72" height="2.34" fill="#f6a58b"/>
<rect x="211.27" y="40.82" width="11.72" height="2.34" fill="#f7af98"/>
<rect x="211.27" y="43.1" width="11.72" height="2.34" fill="#ee6948"/>
<rect x="211.27" y="45.39" width="11.72" height="2.34" fill="#ea6847"/>
<rect x="211.27" y="47.67" width="11.72" height="2.34" fill="#e34626"/>
<rect x="211.27" y="49.95" width="11.72" height="2.34" fill="#f8d6ca"/>
<rect x="211.27" y="52.24" width="11.72" height="2.34" fill="#ec6947"/>
<rect x="211.27" y="54.52" width="11.72" height="2.34" fill="#f1a289"/>
<rect x="211.27" y="56.8" width="11.72" height="2.34" fill="#dad4ee"/>
<rect x="211.27" y="59.09" width="11.72" height="2.34" fill="#e0dbf1"/>
<rect x="211.27" y="61.37" width="11.72" height="2.34" fill="#f7ab92"/>
<rect x="211.27" y="63.66" width="11.72" height="2.34" fill="#eb6847"/>
<rect x="211.27" y="65.94" width="11.72" height="2.34" fill="#ec6947"/>
<rect x="211.27" y="68.22" width="11.72" height="2.34" fill="#f1a289"/>
<rect x="211.27" y="70.51" width="11.72" height="2.34" fill="#ea6847"/>
<rect x="211.27" y="72.79" width="11.72" height="2.34" fill="#f7ab93"/>
<rect x="211.27" y="75.07" width="11.72" height="2.34" fill="#f4d0c4"/>
<rect x="211.27" y="77.36" width="11.72" height="2.34" fill="#f8d4c7"/>
<rect x="211.27" y="79.64" width="11.72" height="2.34" fill="#f7d2c6"/>
<rect x="211.27" y="81.92" width="11.72" height="2.34" fill="#df3f1f"/>
<rect x="211.27" y="84.21" width="11.72" height="2.34" fill="#f7aa91"/>
<rect x="211.27" y="86.49" width="11.72" height="2.34" fill="#f2a289"/>
<rect x="211.27" y="88.78" width="11.72" height="2.34" fill="#f4edf1"/>
<rect x="211.27" y="91.06" width="11.72" height="2.34" fill="#f0e8ed"/>
<rect x="211.27" y="93.34" width="11.72" height="2.34" fill="#9785d1"/>
<rect x="211.27" y="95.63" width="11.72" height="2.34" fill="#b9b0e0"/>
<rect x="211.27" y="97.91" width="11.72" height="2.34" fill="#9685d0"/>
<rect x="211.27" y="100.19" width="11.72" height="2.34" fill="#f5eef2"/>
<rect x="211.27" y="102.48" width="11.72" height="2.34" fill="#f5edf1"/>
<rect x="211.27" y="104.76" width="11.72" height="2.34" fill="#f6d1c5"/>
<rect x="211.27" y="107.04" width="11.72" height="2.34" fill="#f9d7cb"/>
<rect x="211.27" y="109.33" width="11.72" height="2.34" fill="#f5d0c4"/>
<rect x="211.27" y="111.61" width="11.72" height="2.34" fill="#bbb1e1"/>
<rect x="211.27" y="113.9" width="11.72" height="2.34" fill="#a190d6"/>
<rect x="211.27" y="116.18" width="11.72" height="2.34" fill="#beb5e3"/>
<rect x="211.27" y="118.46" width="11.72" height="2.34" fill="#9583cf"/>
<rect x="211.27" y="120.75" width="11.72" height="2.34" fill="#c4bbe5"/>
<rect x="211.27" y="123.03" width="11.72" height="2.34" fill="#9684d0"/>
<rect x="211.27" y="125.31" width="11.72" height="2.34" fill="#9684d0"/>
<rect x="211.27" y="127.6" width="11.72" height="2.34" fill="#c0b7e4"/>
<rect x="211.27" y="129.88" width="11.72" height="2.34" fill="#f2eaef"/>
<rect x="211.27" y="132.17" width="11.72" height="2.34" fill="#4e3b9d"/>
<rect x="211.27" y="134.45" width="11.72" height="2.34" fill="#4d3b9c"/>
<rect x="211.27" y="136.73" width="11.72" height="2.34" fill="#9583cf"/>
<rect x="211.27" y="139.02" width="11.72" height="2.34" fill="#9a88d3"/>
<rect x="222.94" y="29.4" width="11.72" height="2.34" fill="#f3a38a"/>
<rect x="222.94" y="31.68" width="11.72" height="2.34" fill="#f6a78e"/>
<rect x="222.94" y="33.97" width="11.72" height="2.34" fill="#ee6948"/>
<rect x="222.94" y="36.25" width="11.72" height="2.34" fill="#f5a58b"/>
<rect x="222.94" y="38.53" width="11.72" height="2.34" fill="#f17a5c"/>
<rect x="222.94" y="40.82" width="11.72" height="2.34" fill="#ef6a48"/>
<rect x="222.94" y="43.1" width="11.72" height="2.34" fill="#f6a78d"/>
<rect x="222.94" y="45.39" width="11.72" height="2.34" fill="#f07758"/>
<rect x="222.94" y="47.67" width="11.72" height="2.34" fill="#df3f1f"/>
<rect x="222.94" y="49.95" width="11.72" height="2.34" fill="#de3f1f"/>
<rect x="222.94" y="52.24" width="11.72" height="2.34" fill="#e55335"/>
<rect x="222.94" y="54.52" width="11.72" height="2.34" fill="#e44f30"/>
<rect x="222.94" y="56.8" width="11.72" height="2.34" fill="#df3f1f"/>
<rect x="222.94" y="59.09" width="11.72" height="2.34" fill="#df3f1f"/>
<rect x="222.94" y="61.37" width="11.72" height="2.34" fill="#e44b2c"/>
<rect x="222.94" y="63.66" width="11.72" height="2.34" fill="#f7af97"/>
<rect x="222.94" y="65.94" width="11.72" height="2.34" fill="#f0e9ed"/>
<rect x="222.94" y="68.22" width="11.72" height="2.34" fill="#f7af98"/>
<rect x="222.94" y="70.51" width="11.72" height="2.34" fill="#dfdaf0"/>
<rect x="222.94" y="72.79" width="11.72" height="2.34" fill="#ddd7ef"/>
<rect x="222.94" y="75.07" width="11.72" height="2.34" fill="#f5a48b"/>
<rect x="222.94" y="77.36" width="11.72" height="2.34" fill="#efe8ed"/>
<rect x="222.94" y="79.64" width="11.72" height="2.34" fill="#efe7ec"/>
<rect x="222.94" y="81.92" width="11.72" height="2.34" fill="#f7af98"/>
<rect x="222.94" y="84.21" width="11.72" height="2.34" fill="#f3a38a"/>
<rect x="222.94" y="86.49" width="11.72" height="2.34" fill="#f8d5c9"/>
<rect x="222.94" y="88.78" width="11.72" height="2.34" fill="#f5d1c4"/>
<rect x="222.94" y="91.06" width="11.72" height="2.34" fill="#f5edf1"/>
<rect x="222.94" y="93.34" width="11.72" height="2.34" fill="#ddd7ef"/>
<rect x="222.94" y="95.63" width="11.72" height="2.34" fill="#bab0e0"/>
<rect x="222.94" y="97.91" width="11.72" height="2.34" fill="#b9afdf"/>
<rect x="222.94" y="100.19" width="11.72" height="2.34" fill="#9d8cd4"/>
<rect x="222.94" y="102.48" width="11.72" height="2.34" fill="#b8aede"/>
<rect x="222.94" y="104.76" width="11.72" height="2.34" fill="#bab0e0"/>
<rect x="222.94" y="107.04" width="11.72" height="2.34" fill="#9988d3"/>
<rect x="222.94" y="109.33" width="11.72" height="2.34" fill="#5e4ca6"/>
<rect x="222.94" y="111.61" width="11.72" height="2.34" fill="#beb4e3"/>
<rect x="222.94" y="113.9" width="11.72" height="2.34" fill="#bab0e0"/>
<rect x="222.94" y="116.18" width="11.72" height="2.34" fill="#f5eef2"/>
<rect x="222.94" y="118.46" width="11.72" height="2.34" fill="#b9afe0"/>
<rect x="222.94" y="120.75" width="11.72" height="2.34" fill="#b8aede"/>
<rect x="222.94" y="123.03" width="11.72" height="2.34" fill="#bab0e0"/>
<rect x="222.94" y="125.31" width="11.72" height="2.34" fill="#9886d2"/>
<rect x="222.94" y="127.6" width="11.72" height="2.34" fill="#9583cf"/>
<rect x="222.94" y="129.88" width="11.72" height="2.34" fill="#4e3b9c"/>
<rect x="222.94" y="132.17" width="11.72" height="2.34" fill="#bbb1e1"/>
<rect x="222.94" y="134.45" width="11.72" height="2.34" fill="#ddd7ef"/>
<rect x="222.94" y="136.73" width="11.72" height="2.34" fill="#d8d2ec"/>
<rect x="222.94" y="139.02" width="11.72" height="2.34" fill="#dbd5ee"/>
<rect x="234.61" y="29.4" width="11.72" height="2.34" fill="#f7ad96"/>
<rect x="234.61" y="31.68" width="11.72" height="2.34" fill="#f17b5d"/>
<rect x="234.61" y="33.97" width="11.72" height="2.34" fill="#f0704f"/>
<rect x="234.61" y="36.25" width="11.72" height="2.34" fill="#f6a990"/>
<rect x="234.61" y="38.53" width="11.72" height="2.34" fill="#f8d4c7"/>
<rect x="234.61" y="40.82" width="11.72" height="2.34" fill="#f2a289"/>
<rect x="234.61" y="43.1" width="11.72" height="2.34" fill="#f1a189"/>
<rect x="234.61" y="45.39" width="11.72" height="2.34" fill="#f0a189"/>
<rect x="234.61" y="47.67" width="11.72" height="2.34" fill="#f5eef1"/>
<rect x="234.61" y="49.95" width="11.72" height="2.34" fill="#ded8f0"/>
<rect x="234.61" y="52.24" width="11.72" height="2.34" fill="#e0dbf1"/>
<rect x="234.61" y="54.52" width="11.72" height="2.34" fill="#d7d1eb"/>
<rect x="234.61" y="56.8" width="11.72" height="2.34" fill="#9b8ad3"/>
<rect x="234.61" y="59.09" width="11.72" height="2.34" fill="#bcb2e2"/>
<rect x="234.61" y="61.37" width="11.72" height="2.34" fill="#c0b6e4"/>
<rect x="234.61" y="63.66" width="11.72" height="2.34" fill="#f4a48a"/>
<rect x="234.61" y="65.94" width="11.72" height="2.34" fill="#f5eef2"/>
<rect x="234.61" y="68.22" width="11.72" height="2.34" fill="#b8aedf"/>
<rect x="234.61" y="70.51" width="11.72" height="2.34" fill="#f8d3c7"/>
<rect x="234.61" y="72.79" width="11.72" height="2.34" fill="#f8d6c9"/>
<rect x="234.61" y="75.07" width="11.72" height="2.34" fill="#c2b9e5"/>
<rect x="234.61" y="77.36" width="11.72" height="2.34" fill="#9e8dd5"/>
<rect x="234.61" y="79.64" width="11.72" height="2.34" fill="#9d8cd4"/>
<rect x="234.61" y="81.92" width="11.72" height="2.34" fill="#5b4aa5"/>
<rect x="234.61" y="84.21" width="11.72" height="2.34" fill="#c3bae5"/>
<rect x="234.61" y="86.49" width="11.72" height="2.34" fill="#f2eaef"/>
<rect x="234.61" y="88.78" width="11.72" height="2.34" fill="#f8d5c9"/>
<rect x="234.61" y="91.06" width="11.72" height="2.34" fill="#f9d7cb"/>
<rect x="234.61" y="93.34" width="11.72" height="2.34" fill="#a191d6"/>
<rect x="234.61" y="95.63" width="11.72" height="2.34" fill="#9785d1"/>
<rect x="234.61" y="97.91" width="11.72" height="2.34" fill="#f5edf1"/>
<rect x="234.61" y="100.19" width="11.72" height="2.34" fill="#f7ad95"/>
<rect x="234.61" y="102.48" width="11.72" height="2.34" fill="#bdb3e3"/>
<rect x="234.61" y="104.76" width="11.72" height="2.34" fill="#f8d4c8"/>
<rect x="234.61" y="107.04" width="11.72" height="2.34" fill="#f7d2c5"/>
<rect x="234.61" y="109.33" width="11.72" height="2.34" fill="#bdb4e3"/>
<rect x="234.61" y="111.61" width="11.72" height="2.34" fill="#9b89d3"/>
<rect x="234.61" y="113.9" width="11.72" height="2.34" fill="#9583cf"/>
<rect x="234.61" y="116.18" width="11.72" height="2.34" fill="#f8d4c8"/>
<rect x="234.61" y="118.46" width="11.72" height="2.34" fill="#c4bbe5"/>
<rect x="234.61" y="120.75" width="11.72" height="2.34" fill="#a191d6"/>
<rect x="234.61" y="123.03" width="11.72" height="2.34" fill="#f6aa91"/>
<rect x="234.61" y="125.31" width="11.72" height="2.34" fill="#f5a48a"/>
<rect x="234.61" y="127.6" width="11.72" height="2.34" fill="#f7aa92"/>
<rect x="234.61" y="129.88" width="11.72" height="2.34" fill="#f4ecf0"/>
<rect x="234.61" y="132.17" width="11.72" height="2.34" fill="#f3ebef"/>
<rect x="234.61" y="134.45" width="11.72" height="2.34" fill="#f7ac94"/>
<rect x="234.61" y="136.73" width="11.72" height="2.34" fill="#d8d2eb"/>
<rect x="234.61" y="139.02" width="11.72" height="2.34" fill="#ded8f0"/>
<rect x="246.28" y="29.4" width="11.72" height="2.34" fill="#b8aede"/>
<rect x="246.28" y="31.68" width="11.72" height="2.34" fill="#ddd7ef"/>
<rect x="246.28" y="33.97" width="11.72" height="2.34" fill="#f6a58b"/>
<rect x="246.28" y="36.25" width="11.72" height="2.34" fill="#bab0e0"/>
<rect x="246.28" y="38.53" width="11.72" height="2.34" fill="#f5edf1"/>
<rect x="246.28" y="40.82" width="11.72" height="2.34" fill="#f6a58b"/>
<rect x="246.28" y="43.1" width="11.72" height="2.34" fill="#9b89d3"/>
<rect x="246.28" y="45.39" width="11.72" height="2.34" fill="#f9d7cc"/>
<rect x="246.28" y="47.67" width="11.72" height="2.34" fill="#f5d1c4"/>
<rect x="246.28" y="49.95" width="11.72" height="2.34" fill="#b8aede"/>
<rect x="246.28" y="52.24" width="11.72" height="2.34" fill="#4e3b9d"/>
<rect x="246.28" y="54.52" width="11.72" height="2.34" fill="#bfb5e3"/>
<rect x="246.28" y="56.8" width="11.72" height="2.34" fill="#f1e9ed"/>
<rect x="246.28" y="59.09" width="11.72" height="2.34" fill="#f2a289"/>
<rect x="246.28" y="61.37" width="11.72" height="2.34" fill="#f5eef1"/>
<rect x="246.28" y="63.66" width="11.72" height="2.34" fill="#9c8bd4"/>
<rect x="246.28" y="65.94" width="11.72" height="2.34" fill="#9886d2"/>
<rect x="246.28" y="68.22" width="11.72" height="2.34" fill="#f9d7cb"/>
<rect x="246.28" y="70.51" width="11.72" height="2.34" fill="#f4a48a"/>
<rect x="246.28" y="72.79" width="11.72" height="2.34" fill="#bfb5e3"/>
<rect x="246.28" y="75.07" width="11.72" height="2.34" fill="#f2a389"/>
<rect x="246.28" y="77.36" width="11.72" height="2.34" fill="#bbb1e1"/>
<rect x="246.28" y="79.64" width="11.72" height="2.34" fill="#c1b8e4"/>
<rect x="246.28" y="81.92" width="11.72" height="2.34" fill="#f7ae97"/>
<rect x="246.28" y="84.21" width="11.72" height="2.34" fill="#c2b9e5"/>
<rect x="246.28" y="86.49" width="11.72" height="2.34" fill="#f5a48a"/>
<rect x="246.28" y="88.78" width="11.72" height="2.34" fill="#ddd7ef"/>
<rect x="246.28" y="91.06" width="11.72" height="2.34" fill="#dad4ed"/>
<rect x="246.28" y="93.34" width="11.72" height="2.34" fill="#f2a289"/>
<rect x="246.28" y="95.63" width="11.72" height="2.34" fill="#9886d2"/>
<rect x="246.28" y="97.91" width="11.72" height="2.34" fill="#f5eef1"/>
<rect x="246.28" y="100.19" width="11.72" height="2.34" fill="#c2b8e4"/>
<rect x="246.28" y="102.48" width="11.72" height="2.34" fill="#bfb6e3"/>
<rect x="246.28" y="104.76" width="11.72" height="2.34" fill="#f9d8cc"/>
<rect x="246.28" y="107.04" width="11.72" height="2.34" fill="#bab0e0"/>
<rect x="246.28" y="109.33" width="11.72" height="2.34" fill="#b9afdf"/>
<rect x="246.28" y="111.61" width="11.72" height="2.34" fill="#9886d2"/>
<rect x="246.28" y="113.9" width="11.72" height="2.34" fill="#9685d0"/>
<rect x="246.28" y="116.18" width="11.72" height="2.34" fill="#b9b0e0"/>
<rect x="246.28" y="118.46" width="11.72" height="2.34" fill="#bbb1e1"/>
<rect x="246.28" y="120.75" width="11.72" height="2.34" fill="#f4edf0"/>
<rect x="246.28" y="123.03" width="11.72" height="2.34" fill="#ef6a48"/>
<rect x="246.28" y="125.31" width="11.72" height="2.34" fill="#f4a48a"/>
<rect x="246.28" y="127.6" width="11.72" height="2.34" fill="#f7ac94"/>
<rect x="246.28" y="129.88" width="11.72" height="2.34" fill="#f9d8cd"/>
<rect x="246.28" y="132.17" width="11.72" height="2.34" fill="#f5a58b"/>
<rect x="246.28" y="134.45" width="11.72" height="2.34" fill="#f3cfc3"/>
<rect x="246.28" y="136.73" width="11.72" height="2.34" fill="#ea6847"/>
<rect x="246.28" y="139.02" width="11.72" height="2.34" fill="#f07758"/>
<rect x="257.95" y="29.4" width="11.72" height="2.34" fill="#f1a189"/>
<rect x="257.95" y="31.68" width="11.72" height="2.34" fill="#f07151"/>
<rect x="257.95" y="33.97" width="11.72" height="2.34" fill="#f4ecf0"/>
<rect x="257.95" y="36.25" width="11.72" height="2.34" fill="#bab0e0"/>
<rect x="257.95" y="38.53" width="11.72" height="2.34" fill="#5b4aa5"/>
<rect x="257.95" y="40.82" width="11.72" height="2.34" fill="#4d3b9b"/>
<rect x="257.95" y="43.1" width="11.72" height="2.34" fill="#b9afdf"/>
<rect x="257.95" y="45.39" width="11.72" height="2.34" fill="#dcd6ef"/>
<rect x="257.95" y="47.67" width="11.72" height="2.34" fill="#f2cec3"/>
<rect x="257.95" y="49.95" width="11.72" height="2.34" fill="#f9d6cb"/>
<rect x="257.95" y="52.24" width="11.72" height="2.34" fill="#f5d0c4"/>
<rect x="257.95" y="54.52" width="11.72" height="2.34" fill="#b9afdf"/>
<rect x="257.95" y="56.8" width="11.72" height="2.34" fill="#9583cf"/>
<rect x="257.95" y="59.09" width="11.72" height="2.34" fill="#beb4e3"/>
<rect x="257.95" y="61.37" width="11.72" height="2.34" fill="#4f3c9e"/>
<rect x="257.95" y="63.66" width="11.72" height="2.34" fill="#f8d4c8"/>
<rect x="257.95" y="65.94" width="11.72" height="2.34" fill="#f4edf1"/>
<rect x="257.95" y="68.22" width="11.72" height="2.34" fill="#f5edf1"/>
<rect x="257.95" y="70.51" width="11.72" height="2.34" fill="#c3bae5"/>
<rect x="257.95" y="72.79" width="11.72" height="2.34" fill="#bfb5e3"/>
<rect x="257.95" y="75.07" width="11.72" height="2.34" fill="#f4d0c4"/>
<rect x="257.95" y="77.36" width="11.72" height="2.34" fill="#f6a58b"/>
<rect x="257.95" y="79.64" width="11.72" height="2.34" fill="#f2a289"/>
<rect x="257.95" y="81.92" width="11.72" height="2.34" fill="#f2cec3"/>
<rect x="257.95" y="84.21" width="11.72" height="2.34" fill="#f8d3c6"/>
<rect x="257.95" y="86.49" width="11.72" height="2.34" fill="#ded8f0"/>
<rect x="257.95" y="88.78" width="11.72" height="2.34" fill="#d9d3ec"/>
<rect x="257.95" y="91.06" width="11.72" height="2.34" fill="#f5d1c4"/>
<rect x="257.95" y="93.34" width="11.72" height="2.34" fill="#f6d1c5"/>
<rect x="257.95" y="95.63" width="11.72" height="2.34" fill="#f8d5c9"/>
<rect x="257.95" y="97.91" width="11.72" height="2.34" fill="#503d9e"/>
<rect x="257.95" y="100.19" width="11.72" height="2.34" fill="#5441a1"/>
<rect x="257.95" y="102.48" width="11.72" height="2.34" fill="#5a48a4"/>
<rect x="257.95" y="104.76" width="11.72" height="2.34" fill="#9785d1"/>
<rect x="257.95" y="107.04" width="11.72" height="2.34" fill="#9f8ed5"/>
<rect x="257.95" y="109.33" width="11.72" height="2.34" fill="#f5eef1"/>
<rect x="257.95" y="111.61" width="11.72" height="2.34" fill="#f3cfc3"/>
<rect x="257.95" y="113.9" width="11.72" height="2.34" fill="#f9d8cc"/>
<rect x="257.95" y="116.18" width="11.72" height="2.34" fill="#f5edf1"/>
<rect x="257.95" y="118.46" width="11.72" height="2.34" fill="#eb6847"/>
<rect x="257.95" y="120.75" width="11.72" height="2.34" fill="#f5a58b"/>
<rect x="257.95" y="123.03" width="11.72" height="2.34" fill="#beb4e3"/>
<rect x="257.95" y="125.31" width="11.72" height="2.34" fill="#c3bae5"/>
<rect x="257.95" y="127.6" width="11.72" height="2.34" fill="#f7d2c5"/>
<rect x="257.95" y="129.88" width="11.72" height="2.34" fill="#f6a68d"/>
<rect x="257.95" y="132.17" width="11.72" height="2.34" fill="#f9d7cb"/>
<rect x="257.95" y="134.45" width="11.72" height="2.34" fill="#f8d6ca"/>
<rect x="257.95" y="136.73" width="11.72" height="2.34" fill="#c3bae5"/>
<rect x="257.95" y="139.02" width="11.72" height="2.34" fill="#bcb2e2"/>
<rect x="269.62" y="29.4" width="11.72" height="2.34" fill="#5543a2"/>
<rect x="269.62" y="31.68" width="11.72" height="2.34" fill="#b9afe0"/>
<rect x="269.62" y="33.97" width="11.72" height="2.34" fill="#9d8cd4"/>
<rect x="269.62" y="36.25" width="11.72" height="2.34" fill="#c1b8e4"/>
<rect x="269.62" y="38.53" width="11.72" height="2.34" fill="#9c8ad4"/>
<rect x="269.62" y="40.82" width="11.72" height="2.34" fill="#ded8f0"/>
<rect x="269.62" y="43.1" width="11.72" height="2.34" fill="#9684d0"/>
<rect x="269.62" y="45.39" width="11.72" height="2.34" fill="#c2b9e5"/>
<rect x="269.62" y="47.67" width="11.72" height="2.34" fill="#a494d7"/>
<rect x="269.62" y="49.95" width="11.72" height="2.34" fill="#c4bbe5"/>
<rect x="269.62" y="52.24" width="11.72" height="2.34" fill="#513e9f"/>
<rect x="269.62" y="54.52" width="11.72" height="2.34" fill="#c1b7e4"/>
<rect x="269.62" y="56.8" width="11.72" height="2.34" fill="#bab0e1"/>
<rect x="269.62" y="59.09" width="11.72" height="2.34" fill="#dfdaf1"/>
<rect x="269.62" y="61.37" width="11.72" height="2.34" fill="#a190d6"/>
<rect x="269.62" y="63.66" width="11.72" height="2.34" fill="#f2eaef"/>
<rect x="269.62" y="65.94" width="11.72" height="2.34" fill="#f3cfc3"/>
<rect x="269.62" y="68.22" width="11.72" height="2.34" fill="#f7d2c6"/>
<rect x="269.62" y="70.51" width="11.72" height="2.34" fill="#bdb3e2"/>
<rect x="269.62" y="72.79" width="11.72" height="2.34" fill="#9f8ed5"/>
<rect x="269.62" y="75.07" width="11.72" height="2.34" fill="#bcb2e2"/>
<rect x="269.62" y="77.36" width="11.72" height="2.34" fill="#4d3b9b"/>
<rect x="269.62" y="79.64" width="11.72" height="2.34" fill="#dfd9f0"/>
<rect x="269.62" y="81.92" width="11.72" height="2.34" fill="#9583cf"/>
<rect x="269.62" y="84.21" width="11.72" height="2.34" fill="#9f8fd5"/>
<rect x="269.62" y="86.49" width="11.72" height="2.34" fill="#4e3b9c"/>
<rect x="269.62" y="88.78" width="11.72" height="2.34" fill="#4e3c9d"/>
<rect x="269.62" y="91.06" width="11.72" height="2.34" fill="#e44d2e"/>
<rect x="269.62" y="93.34" width="11.72" height="2.34" fill="#eb6847"/>
<rect x="269.62" y="95.63" width="11.72" height="2.34" fill="#f2a289"/>
<rect x="269.62" y="97.91" width="11.72" height="2.34" fill="#f6a58b"/>
<rect x="269.62" y="100.19" width="11.72" height="2.34" fill="#f6aa91"/>
<rect x="269.62" y="102.48" width="11.72" height="2.34" fill="#f7ac94"/>
<rect x="269.62" y="104.76" width="11.72" height="2.34" fill="#e34929"/>
<rect x="269.62" y="107.04" width="11.72" height="2.34" fill="#f17a5c"/>
<rect x="269.62" y="109.33" width="11.72" height="2.34" fill="#ef6a48"/>
<rect x="269.62" y="111.61" width="11.72" height="2.34" fill="#f7af98"/>
<rect x="269.62" y="113.9" width="11.72" height="2.34" fill="#f1a289"/>
<rect x="269.62" y="116.18" width="11.72" height="2.34" fill="#f5d0c4"/>
<rect x="269.62" y="118.46" width="11.72" height="2.34" fill="#dcd6ef"/>
<rect x="269.62" y="120.75" width="11.72" height="2.34" fill="#dad4ed"/>
<rect x="269.62" y="123.03" width="11.72" height="2.34" fill="#f6aa91"/>
<rect x="269.62" y="125.31" width="11.72" height="2.34" fill="#f06f4e"/>
<rect x="269.62" y="127.6" width="11.72" height="2.34" fill="#f4ecf0"/>
<rect x="269.62" y="129.88" width="11.72" height="2.34" fill="#f7ac95"/>
<rect x="269.62" y="132.17" width="11.72" height="2.34" fill="#ef6c4b"/>
<rect x="269.62" y="134.45" width="11.72" height="2.34" fill="#f4a48a"/>
<rect x="269.62" y="136.73" width="11.72" height="2.34" fill="#f5a48a"/>
<rect x="269.62" y="139.02" width="11.72" height="2.34" fill="#f7ac95"/>
<rect x="281.29" y="29.4" width="11.72" height="2.34" fill="#dfdaf1"/>
<rect x="281.29" y="31.68" width="11.72" height="2.34" fill="#4e3b9c"/>
<rect x="281.29" y="33.97" width="11.72" height="2.34" fill="#c2b8e4"/>
<rect x="281.29" y="36.25" width="11.72" height="2.34" fill="#f5eef2"/>
<rect x="281.29" y="38.53" width="11.72" height="2.34" fill="#9987d2"/>
<rect x="281.29" y="40.82" width="11.72" height="2.34" fill="#9a88d3"/>
<rect x="281.29" y="43.1" width="11.72" height="2.34" fill="#b9afe0"/>
<rect x="281.29" y="45.39" width="11.72" height="2.34" fill="#dcd6ef"/>
<rect x="281.29" y="47.67" width="11.72" height="2.34" fill="#4f3c9e"/>
<rect x="281.29" y="49.95" width="11.72" height="2.34" fill="#5341a0"/>
<rect x="281.29" y="52.24" width="11.72" height="2.34" fill="#4d3b9b"/>
<rect x="281.29" y="54.52" width="11.72" height="2.34" fill="#c4bbe5"/>
<rect x="281.29" y="56.8" width="11.72" height="2.34" fill="#f4ecf0"/>
<rect x="281.29" y="59.09" width="11.72" height="2.34" fill="#bbb1e1"/>
<rect x="281.29" y="61.37" width="11.72" height="2.34" fill="#9f8fd5"/>
<rect x="281.29" y="63.66" width="11.72" height="2.34" fill="#f4ecf0"/>
<rect x="281.29" y="65.94" width="11.72" height="2.34" fill="#9886d2"/>
<rect x="281.29" y="68.22" width="11.72" height="2.34" fill="#9d8cd4"/>
<rect x="281.29" y="70.51" width="11.72" height="2.34" fill="#b8aede"/>
<rect x="281.29" y="72.79" width="11.72" height="2.34" fill="#9987d2"/>
<rect x="281.29" y="75.07" width="11.72" height="2.34" fill="#4f3c9e"/>
<rect x="281.29" y="77.36" width="11.72" height="2.34" fill="#a393d7"/>
<rect x="281.29" y="79.64" width="11.72" height="2.34" fill="#a292d7"/>
<rect x="281.29" y="81.92" width="11.72" height="2.34" fill="#f5d1c4"/>
<rect x="281.29" y="84.21" width="11.72" height="2.34" fill="#f8d3c6"/>
<rect x="281.29" y="86.49" width="11.72" height="2.34" fill="#b9afdf"/>
<rect x="281.29" y="88.78" width="11.72" height="2.34" fill="#f3ebef"/>
<rect x="281.29" y="91.06" width="11.72" height="2.34" fill="#f5edf1"/>
<rect x="281.29" y="93.34" width="11.72" height="2.34" fill="#f7ae96"/>
<rect x="281.29" y="95.63" width="11.72" height="2.34" fill="#f8d3c6"/>
<rect x="281.29" y="97.91" width="11.72" height="2.34" fill="#f4a48a"/>
<rect x="281.29" y="100.19" width="11.72" height="2.34" fill="#f2a389"/>
<rect x="281.29" y="102.48" width="11.72" height="2.34" fill="#f6a88e"/>
<rect x="281.29" y="104.76" width="11.72" height="2.34" fill="#f5eef2"/>
<rect x="281.29" y="107.04" width="11.72" height="2.34" fill="#f2a289"/>
<rect x="281.29" y="109.33" width="11.72" height="2.34" fill="#f7ab93"/>
<rect x="281.29" y="111.61" width="11.72" height="2.34" fill="#ea6847"/>
<rect x="281.29" y="113.9" width="11.72" height="2.34" fill="#df3f1f"/>
<rect x="281.29" y="116.18" width="11.72" height="2.34" fill="#df3f1f"/>
<rect x="281.29" y="118.46" width="11.72" height="2.34" fill="#f07150"/>
<rect x="281.29" y="120.75" width="11.72" height="2.34" fill="#f4a48a"/>
<rect x="281.29" y="123.03" width="11.72" height="2.34" fill="#f4a48a"/>
<rect x="281.29" y="125.31" width="11.72" height="2.34" fill="#ef6e4d"/>
<rect x="281.29" y="127.6" width="11.72" height="2.34" fill="#f3cfc3"/>
<rect x="281.29" y="129.88" width="11.72" height="2.34" fill="#f6aa91"/>
<rect x="281.29" y="132.17" width="11.72" height="2.34" fill="#f0e8ed"/>
<rect x="281.29" y="134.45" width="11.72" height="2.34" fill="#f6a58b"/>
<rect x="281.29" y="136.73" width="11.72" height="2.34" fill="#f3a38a"/>
<rect x="281.29" y="139.02" width="11.72" height="2.34" fill="#f2a389"/>
<rect x="292.96" y="29.4" width="11.72" height="2.34" fill="#dcd6ef"/>
<rect x="292.96" y="31.68" width="11.72" height="2.34" fill="#9886d2"/>
<rect x="292.96" y="33.97" width="11.72" height="2.34" fill="#bbb1e1"/>
<rect x="292.96" y="36.25" width="11.72" height="2.34" fill="#4f3c9e"/>
<rect x="292.96" y="38.53" width="11.72" height="2.34" fill="#9987d2"/>
<rect x="292.96" y="40.82" width="11.72" height="2.34" fill="#9684cf"/>
<rect x="292.96" y="43.1" width="11.72" height="2.34" fill="#d9d3ec"/>
<rect x="292.96" y="45.39" width="11.72" height="2.34" fill="#9b8ad3"/>
<rect x="292.96" y="47.67" width="11.72" height="2.34" fill="#ddd7f0"/>
<rect x="292.96" y="49.95" width="11.72" height="2.34" fill="#bcb3e2"/>
<rect x="292.96" y="52.24" width="11.72" height="2.34" fill="#c2b8e4"/>
<rect x="292.96" y="54.52" width="11.72" height="2.34" fill="#ddd7ef"/>
<rect x="292.96" y="56.8" width="11.72" height="2.34" fill="#c2b9e4"/>
<rect x="292.96" y="59.09" width="11.72" height="2.34" fill="#f1e9ee"/>
<rect x="292.96" y="61.37" width="11.72" height="2.34" fill="#ded8f0"/>
<rect x="292.96" y="63.66" width="11.72" height="2.34" fill="#5c4ba5"/>
<rect x="292.96" y="65.94" width="11.72" height="2.34" fill="#604fa7"/>
<rect x="292.96" y="68.22" width="11.72" height="2.34" fill="#4e3b9d"/>
<rect x="292.96" y="70.51" width="11.72" height="2.34" fill="#9785d1"/>
<rect x="292.96" y="72.79" width="11.72" height="2.34" fill="#c3bae5"/>
<rect x="292.96" y="75.07" width="11.72" height="2.34" fill="#d9d3ed"/>
<rect x="292.96" y="77.36" width="11.72" height="2.34" fill="#e0dbf1"/>
<rect x="292.96" y="79.64" width="11.72" height="2.34" fill="#a291d6"/>
<rect x="292.96" y="81.92" width="11.72" height="2.34" fill="#9584cf"/>
<rect x="292.96" y="84.21" width="11.72" height="2.34" fill="#9684d0"/>
<rect x="292.96" y="86.49" width="11.72" height="2.34" fill="#ded8f0"/>
<rect x="292.96" y="88.78" width="11.72" height="2.34" fill="#d9d4ed"/>
<rect x="292.96" y="91.06" width="11.72" height="2.34" fill="#efe7ed"/>
<rect x="292.96" y="93.34" width="11.72" height="2.34" fill="#f7ac94"/>
<rect x="292.96" y="95.63" width="11.72" height="2.34" fill="#ee6a48"/>
<rect x="292.96" y="97.91" width="11.72" height="2.34" fill="#f7ab93"/>
<rect x="292.96" y="100.19" width="11.72" height="2.34" fill="#f2a289"/>
<rect x="292.96" y="102.48" width="11.72" height="2.34" fill="#f5a48b"/>
<rect x="292.96" y="104.76" width="11.72" height="2.34" fill="#f07150"/>
<rect x="292.96" y="107.04" width="11.72" height="2.34" fill="#e96847"/>
<rect x="292.96" y="109.33" width="11.72" height="2.34" fill="#f2a38a"/>
<rect x="292.96" y="111.61" width="11.72" height="2.34" fill="#f6a990"/>
<rect x="292.96" y="113.9" width="11.72" height="2.34" fill="#f7ae96"/>
<rect x="292.96" y="116.18" width="11.72" height="2.34" fill="#f7af98"/>
<rect x="292.96" y="118.46" width="11.72" height="2.34" fill="#f3cfc3"/>
<rect x="292.96" y="120.75" width="11.72" height="2.34" fill="#f6a58b"/>
<rect x="292.96" y="123.03" width="11.72" height="2.34" fill="#ded9f0"/>
<rect x="292.96" y="125.31" width="11.72" height="2.34" fill="#dcd6ef"/>
<rect x="292.96" y="127.6" width="11.72" height="2.34" fill="#f6a990"/>
<rect x="292.96" y="129.88" width="11.72" height="2.34" fill="#f2a389"/>
<rect x="292.96" y="132.17" width="11.72" height="2.34" fill="#f1a289"/>
<rect x="292.96" y="134.45" width="11.72" height="2.34" fill="#f1a289"/>
<rect x="292.96" y="136.73" width="11.72" height="2.34" fill="#ea6847"/>
<rect x="292.96" y="139.02" width="11.72" height="2.34" fill="#ef6c4a"/>
<line x1="200" y1="143.8" x2="233.3" y2="143.8" stroke="#6a6f8c" stroke-width="1.2"/>
<line x1="235.8" y1="143.8" x2="268.8" y2="143.8" stroke="#6a6f8c" stroke-width="1.2"/>
<line x1="271.3" y1="143.8" x2="303.8" y2="143.8" stroke="#6a6f8c" stroke-width="1.2"/>
<line x1="205.44" y1="26.8" x2="228.78" y2="26.8" stroke="#8d93a0" stroke-width="0.6"/>
<line x1="205.44" y1="26.8" x2="205.44" y2="29.4" stroke="#8d93a0" stroke-width="0.6"/>
<line x1="217.1" y1="26.8" x2="217.1" y2="29.4" stroke="#8d93a0" stroke-width="0.6"/>
<line x1="228.78" y1="26.8" x2="228.78" y2="29.4" stroke="#8d93a0" stroke-width="0.6"/>
<line x1="240.44" y1="26.5" x2="263.78" y2="26.5" stroke="#8d93a0" stroke-width="0.6"/>
<line x1="240.44" y1="26.5" x2="240.44" y2="29.4" stroke="#8d93a0" stroke-width="0.6"/>
<line x1="252.12" y1="26.5" x2="252.12" y2="29.4" stroke="#8d93a0" stroke-width="0.6"/>
<line x1="263.78" y1="26.5" x2="263.78" y2="29.4" stroke="#8d93a0" stroke-width="0.6"/>
<line x1="275.45" y1="25.8" x2="298.79" y2="25.8" stroke="#8d93a0" stroke-width="0.6"/>
<line x1="275.45" y1="25.8" x2="275.45" y2="29.4" stroke="#8d93a0" stroke-width="0.6"/>
<line x1="287.12" y1="25.8" x2="287.12" y2="29.4" stroke="#8d93a0" stroke-width="0.6"/>
<line x1="298.79" y1="25.8" x2="298.79" y2="29.4" stroke="#8d93a0" stroke-width="0.6"/>
<line x1="217.1" y1="24.4" x2="252.12" y2="24.4" stroke="#8d93a0" stroke-width="0.6"/>
<line x1="217.1" y1="24.4" x2="217.1" y2="26.8" stroke="#8d93a0" stroke-width="0.6"/>
<line x1="252.12" y1="24.4" x2="252.12" y2="26.5" stroke="#8d93a0" stroke-width="0.6"/>
<line x1="234.61" y1="22.5" x2="285" y2="22.5" stroke="#8d93a0" stroke-width="0.6"/>
<line x1="234.61" y1="22.5" x2="234.61" y2="24.4" stroke="#8d93a0" stroke-width="0.6"/>
<line x1="285" y1="22.5" x2="285" y2="25.8" stroke="#8d93a0" stroke-width="0.6"/>
<line x1="189.4" y1="51.8" x2="189.4" y2="110.2" stroke="#8a8f9c" stroke-width="0.7"/>
<line x1="189.4" y1="51.8" x2="193" y2="51.8" stroke="#8a8f9c" stroke-width="0.6"/>
<line x1="189.4" y1="110.2" x2="193" y2="110.2" stroke="#8a8f9c" stroke-width="0.6"/>
<line x1="193" y1="33" x2="193" y2="71" stroke="#8a8f9c" stroke-width="0.55"/>
<line x1="193" y1="84" x2="193" y2="138" stroke="#8a8f9c" stroke-width="0.55"/>
<line x1="195.94" y1="30.54" x2="199.5" y2="30.54" stroke="#8a8f9c" stroke-width="0.45"/>
<line x1="195.94" y1="30.54" x2="195.94" y2="35.11" stroke="#8a8f9c" stroke-width="0.45"/>
<line x1="194.74" y1="32.83" x2="195.94" y2="32.83" stroke="#8a8f9c" stroke-width="0.45"/>
<line x1="196.28" y1="37.39" x2="199.5" y2="37.39" stroke="#8a8f9c" stroke-width="0.45"/>
<line x1="196.28" y1="37.39" x2="196.28" y2="39.68" stroke="#8a8f9c" stroke-width="0.45"/>
<line x1="195.08" y1="38.53" x2="196.28" y2="38.53" stroke="#8a8f9c" stroke-width="0.45"/>
<line x1="196.43" y1="41.96" x2="199.5" y2="41.96" stroke="#8a8f9c" stroke-width="0.45"/>
<line x1="196.43" y1="41.96" x2="196.43" y2="44.24" stroke="#8a8f9c" stroke-width="0.45"/>
<line x1="195.23" y1="43.1" x2="196.43" y2="43.1" stroke="#8a8f9c" stroke-width="0.45"/>
<line x1="196.84" y1="46.53" x2="199.5" y2="46.53" stroke="#8a8f9c" stroke-width="0.45"/>
<line x1="196.84" y1="46.53" x2="196.84" y2="51.1" stroke="#8a8f9c" stroke-width="0.45"/>
<line x1="195.64" y1="48.81" x2="196.84" y2="48.81" stroke="#8a8f9c" stroke-width="0.45"/>
<line x1="196.27" y1="53.38" x2="199.5" y2="53.38" stroke="#8a8f9c" stroke-width="0.45"/>
<line x1="196.27" y1="53.38" x2="196.27" y2="55.66" stroke="#8a8f9c" stroke-width="0.45"/>
<line x1="195.07" y1="54.52" x2="196.27" y2="54.52" stroke="#8a8f9c" stroke-width="0.45"/>
<line x1="196.78" y1="57.95" x2="199.5" y2="57.95" stroke="#8a8f9c" stroke-width="0.45"/>
<line x1="196.78" y1="57.95" x2="196.78" y2="60.23" stroke="#8a8f9c" stroke-width="0.45"/>
<line x1="195.58" y1="59.09" x2="196.78" y2="59.09" stroke="#8a8f9c" stroke-width="0.45"/>
<line x1="194.28" y1="62.51" x2="199.5" y2="62.51" stroke="#8a8f9c" stroke-width="0.45"/>
<line x1="194.28" y1="62.51" x2="194.28" y2="67.08" stroke="#8a8f9c" stroke-width="0.45"/>
<line x1="193.08" y1="64.8" x2="194.28" y2="64.8" stroke="#8a8f9c" stroke-width="0.45"/>
<line x1="195.5" y1="69.37" x2="199.5" y2="69.37" stroke="#8a8f9c" stroke-width="0.45"/>
<line x1="195.5" y1="69.37" x2="195.5" y2="71.65" stroke="#8a8f9c" stroke-width="0.45"/>
<line x1="194.3" y1="70.51" x2="195.5" y2="70.51" stroke="#8a8f9c" stroke-width="0.45"/>
<line x1="196.84" y1="73.93" x2="199.5" y2="73.93" stroke="#8a8f9c" stroke-width="0.45"/>
<line x1="196.84" y1="73.93" x2="196.84" y2="76.22" stroke="#8a8f9c" stroke-width="0.45"/>
<line x1="195.64" y1="75.08" x2="196.84" y2="75.08" stroke="#8a8f9c" stroke-width="0.45"/>
<line x1="196.02" y1="78.5" x2="199.5" y2="78.5" stroke="#8a8f9c" stroke-width="0.45"/>
<line x1="196.02" y1="78.5" x2="196.02" y2="83.07" stroke="#8a8f9c" stroke-width="0.45"/>
<line x1="194.82" y1="80.78" x2="196.02" y2="80.78" stroke="#8a8f9c" stroke-width="0.45"/>
<line x1="196.72" y1="85.35" x2="199.5" y2="85.35" stroke="#8a8f9c" stroke-width="0.45"/>
<line x1="196.72" y1="85.35" x2="196.72" y2="87.64" stroke="#8a8f9c" stroke-width="0.45"/>
<line x1="195.52" y1="86.49" x2="196.72" y2="86.49" stroke="#8a8f9c" stroke-width="0.45"/>
<line x1="194.52" y1="89.92" x2="199.5" y2="89.92" stroke="#8a8f9c" stroke-width="0.45"/>
<line x1="194.52" y1="89.92" x2="194.52" y2="92.2" stroke="#8a8f9c" stroke-width="0.45"/>
<line x1="193.32" y1="91.06" x2="194.52" y2="91.06" stroke="#8a8f9c" stroke-width="0.45"/>
<line x1="195.51" y1="94.49" x2="199.5" y2="94.49" stroke="#8a8f9c" stroke-width="0.45"/>
<line x1="195.51" y1="94.49" x2="195.51" y2="99.05" stroke="#8a8f9c" stroke-width="0.45"/>
<line x1="194.31" y1="96.77" x2="195.51" y2="96.77" stroke="#8a8f9c" stroke-width="0.45"/>
<line x1="194.89" y1="101.34" x2="199.5" y2="101.34" stroke="#8a8f9c" stroke-width="0.45"/>
<line x1="194.89" y1="101.34" x2="194.89" y2="103.62" stroke="#8a8f9c" stroke-width="0.45"/>
<line x1="193.69" y1="102.48" x2="194.89" y2="102.48" stroke="#8a8f9c" stroke-width="0.45"/>
<line x1="195.72" y1="105.91" x2="199.5" y2="105.91" stroke="#8a8f9c" stroke-width="0.45"/>
<line x1="195.72" y1="105.91" x2="195.72" y2="108.19" stroke="#8a8f9c" stroke-width="0.45"/>
<line x1="194.52" y1="107.05" x2="195.72" y2="107.05" stroke="#8a8f9c" stroke-width="0.45"/>
<line x1="195.81" y1="110.47" x2="199.5" y2="110.47" stroke="#8a8f9c" stroke-width="0.45"/>
<line x1="195.81" y1="110.47" x2="195.81" y2="115.04" stroke="#8a8f9c" stroke-width="0.45"/>
<line x1="194.61" y1="112.76" x2="195.81" y2="112.76" stroke="#8a8f9c" stroke-width="0.45"/>
<line x1="194.24" y1="117.33" x2="199.5" y2="117.33" stroke="#8a8f9c" stroke-width="0.45"/>
<line x1="194.24" y1="117.33" x2="194.24" y2="119.61" stroke="#8a8f9c" stroke-width="0.45"/>
<line x1="193.04" y1="118.47" x2="194.24" y2="118.47" stroke="#8a8f9c" stroke-width="0.45"/>
<line x1="194.81" y1="121.89" x2="199.5" y2="121.89" stroke="#8a8f9c" stroke-width="0.45"/>
<line x1="194.81" y1="121.89" x2="194.81" y2="124.18" stroke="#8a8f9c" stroke-width="0.45"/>
<line x1="193.61" y1="123.03" x2="194.81" y2="123.03" stroke="#8a8f9c" stroke-width="0.45"/>
<line x1="194.98" y1="126.46" x2="199.5" y2="126.46" stroke="#8a8f9c" stroke-width="0.45"/>
<line x1="194.98" y1="126.46" x2="194.98" y2="131.03" stroke="#8a8f9c" stroke-width="0.45"/>
<line x1="193.78" y1="128.74" x2="194.98" y2="128.74" stroke="#8a8f9c" stroke-width="0.45"/>
<line x1="196.77" y1="133.31" x2="199.5" y2="133.31" stroke="#8a8f9c" stroke-width="0.45"/>
<line x1="196.77" y1="133.31" x2="196.77" y2="135.6" stroke="#8a8f9c" stroke-width="0.45"/>
<line x1="195.57" y1="134.45" x2="196.77" y2="134.45" stroke="#8a8f9c" stroke-width="0.45"/>
<line x1="196.34" y1="137.88" x2="199.5" y2="137.88" stroke="#8a8f9c" stroke-width="0.45"/>
<line x1="196.34" y1="137.88" x2="196.34" y2="140.16" stroke="#8a8f9c" stroke-width="0.45"/>
<line x1="195.14" y1="139.02" x2="196.34" y2="139.02" stroke="#8a8f9c" stroke-width="0.45"/>
<text x="252.1" y="17.5" font-size="9" text-anchor="middle" fill="#231f20" textLength="68.8" lengthAdjust="spacingAndGlyphs" stroke="#231f20" stroke-width="0.12">N only leukemia</text>
<text transform="translate(221.6,149.6) rotate(-45)" x="0" y="0" font-size="7" text-anchor="end" fill="#231f20" textLength="25.5" lengthAdjust="spacingAndGlyphs">ICN1 wt</text>
<text transform="translate(256.5,149.8) rotate(-45)" x="0" y="0" font-size="7" text-anchor="end" fill="#231f20" textLength="27.5" lengthAdjust="spacingAndGlyphs">Empty V.</text>
<text transform="translate(289.3,150.6) rotate(-45)" x="0" y="0" font-size="7" text-anchor="end" fill="#231f20" textLength="16" lengthAdjust="spacingAndGlyphs">ICN1</text>
<text transform="translate(298.2,155.8) rotate(-45)" x="0" y="0" font-size="7" text-anchor="end" fill="#231f20" textLength="27" lengthAdjust="spacingAndGlyphs">R1984A</text>
<line x1="306.5" y1="55.4" x2="312.2" y2="55.4" stroke="#111" stroke-width="0.9"/>
<path d="M305.4,55.4 L308.2,53.9 L308.2,56.9 Z" fill="#111"/>
<text x="314.8" y="57.9" font-size="6.6" text-anchor="start" fill="#111" font-weight="bold" textLength="17.6" lengthAdjust="spacingAndGlyphs">HES4</text>
<defs><linearGradient id="cb" x1="0" y1="0" x2="0" y2="1"><stop offset="0" stop-color="#e8501c"/><stop offset="0.22" stop-color="#f07a55"/><stop offset="0.5" stop-color="#f7eef0"/><stop offset="0.72" stop-color="#a89ad6"/><stop offset="1" stop-color="#2d2488"/></linearGradient></defs>
<rect x="310.9" y="86" width="4.8" height="33.8" fill="url(#cb)"/>
<text x="318.1" y="90.2" font-size="7" text-anchor="start" fill="#231f20" textLength="13.6" lengthAdjust="spacingAndGlyphs" stroke="#231f20" stroke-width="0.12">Max</text>
<text x="318.1" y="121" font-size="7" text-anchor="start" fill="#231f20" textLength="11.5" lengthAdjust="spacingAndGlyphs" stroke="#231f20" stroke-width="0.12">Min</text>
</svg>
</body></html>
